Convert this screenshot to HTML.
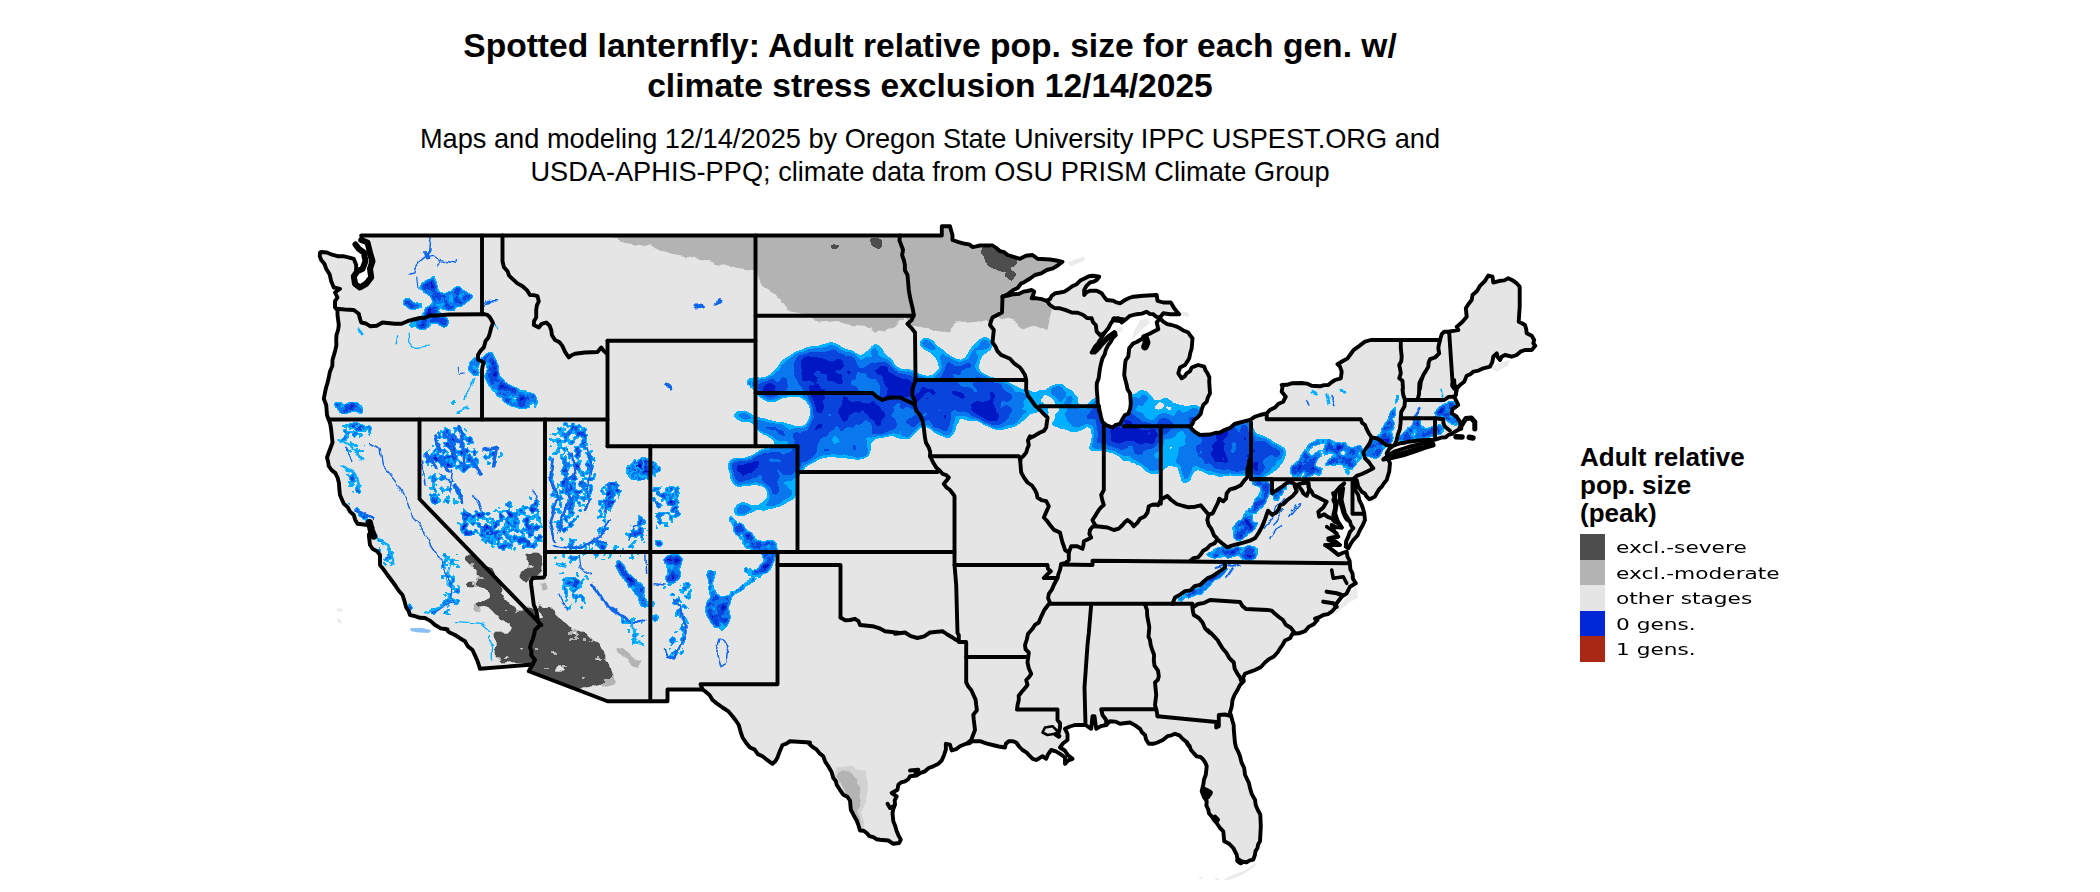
<!DOCTYPE html>
<html lang="en"><head><meta charset="utf-8"><title>Spotted lanternfly map</title>
<style>
html,body{margin:0;padding:0;background:#fff;}
body{width:2100px;height:892px;position:relative;overflow:hidden;font-family:"Liberation Sans",Arial,sans-serif;color:#000;}
.title{position:absolute;left:330px;width:1200px;top:26px;text-align:center;font-weight:bold;font-size:33.6px;line-height:40.3px;letter-spacing:0px;}
.sub{position:absolute;left:330px;width:1200px;top:122.3px;text-align:center;font-size:27.2px;line-height:33.1px;}
.lt{position:absolute;left:1580px;top:442.5px;font-weight:bold;font-size:26px;line-height:28px;}
.sw{position:absolute;left:1580.2px;width:24.7px;height:25.5px;}
.ll{position:absolute;left:1616.3px;font-family:"DejaVu Sans","Liberation Sans",sans-serif;font-size:15.7px;line-height:25.5px;white-space:nowrap;transform:scale(1.383,1);transform-origin:0 0;}
</style></head><body>
<svg width="2100" height="892" viewBox="0 0 2100 892" style="position:absolute;left:0;top:0">
<defs><clipPath id="us"><path d="M361.2,235.5 L941.8,235.5 L941.8,226.2 L950.0,226.2 L951.2,230.8 L952.5,235.3 L952.5,240.0 L958.6,242.2 L965.0,243.8 L969.2,244.4 L972.5,247.0 L976.3,246.3 L980.0,245.5 L992.5,245.5 L996.4,248.1 L1000.0,251.2 L1004.2,252.2 L1007.5,255.0 L1013.7,256.9 L1020.0,258.8 L1025.9,255.8 L1032.5,255.0 L1037.5,258.8 L1050.0,259.5 L1056.3,260.5 L1062.5,261.8 L1058.3,265.0 L1052.9,268.4 L1046.7,270.0 L1041.2,273.4 L1035.0,275.0 L1030.1,278.5 L1025.0,281.7 L1020.7,283.8 L1017.7,288.0 L1013.3,290.0 L1008.3,293.9 L1002.5,296.7 L1008.0,295.7 L1013.3,294.2 L1018.6,294.0 L1023.3,291.7 L1027.5,291.0 L1031.7,290.0 L1034.2,291.7 L1033.1,295.1 L1031.7,298.3 L1036.7,298.3 L1041.7,299.2 L1046.7,300.8 L1050.0,299.1 L1051.7,295.8 L1055.4,293.2 L1060.0,292.5 L1064.5,291.6 L1068.3,289.2 L1072.2,286.2 L1076.7,284.2 L1080.3,280.6 L1085.0,278.3 L1088.9,276.2 L1093.3,275.8 L1099.2,276.7 L1096.7,280.0 L1093.5,281.7 L1090.0,282.5 L1086.5,285.8 L1084.2,290.0 L1084.2,295.0 L1086.6,292.3 L1090.0,290.8 L1096.7,290.8 L1101.7,293.3 L1104.0,296.8 L1106.7,300.0 L1113.3,300.8 L1116.5,302.4 L1120.0,303.3 L1125.0,300.0 L1129.1,298.0 L1133.3,296.7 L1143.3,295.8 L1156.7,295.0 L1157.5,300.8 L1163.3,302.5 L1170.8,302.5 L1174.2,308.3 L1176.6,311.3 L1179.2,314.2 L1170.0,314.2 L1163.3,313.3 L1160.0,317.5 L1156.2,316.8 L1153.3,314.2 L1149.6,313.9 L1146.7,311.7 L1141.8,313.6 L1136.7,314.2 L1130.0,315.8 L1125.0,320.0 L1121.7,322.5 L1118.3,318.3 L1113.3,320.0 L1110.5,323.9 L1108.3,328.3 L1104.2,333.3 L1102.2,336.8 L1100.0,340.0 L1097.9,343.6 L1095.0,346.7 L1091.7,352.5 L1095.0,352.5 L1098.5,348.9 L1101.7,345.0 L1104.9,341.6 L1108.3,338.3 L1111.4,335.1 L1115.0,332.5 L1115.8,335.0 L1112.8,337.9 L1110.8,341.7 L1107.9,345.6 L1105.8,350.0 L1104.7,354.4 L1102.5,358.3 L1101.1,363.3 L1100.0,368.3 L1099.3,373.3 L1098.7,378.3 L1096.8,383.2 L1096.7,388.3 L1097.5,398.3 L1097.8,403.4 L1099.2,408.3 L1100.3,413.7 L1098.8,410.0 L1100.4,413.6 L1101.0,417.5 L1102.5,421.9 L1106.0,425.0 L1112.5,427.5 L1115.8,424.8 L1120.0,423.8 L1122.3,419.3 L1125.0,415.0 L1128.3,413.7 L1130.2,408.6 L1130.8,403.3 L1130.0,393.3 L1127.6,389.5 L1126.7,385.0 L1125.4,380.0 L1124.2,375.0 L1125.0,365.0 L1125.6,360.4 L1128.3,356.7 L1129.2,348.3 L1133.3,343.3 L1136.8,342.0 L1140.0,340.0 L1143.7,338.0 L1146.7,335.0 L1150.1,333.5 L1153.3,331.7 L1158.3,329.2 L1156.7,322.5 L1160.0,318.3 L1163.3,321.7 L1167.2,324.2 L1171.7,325.0 L1176.0,326.3 L1180.0,328.3 L1184.0,330.8 L1188.3,332.5 L1190.2,335.5 L1192.5,338.3 L1191.7,348.3 L1190.2,353.3 L1189.2,358.3 L1187.2,361.7 L1185.0,365.0 L1180.0,367.5 L1178.3,373.3 L1181.7,378.3 L1184.7,376.4 L1186.7,373.3 L1190.0,371.1 L1191.7,367.5 L1195.0,366.2 L1198.3,365.0 L1204.2,366.7 L1205.5,370.2 L1207.5,373.3 L1209.4,377.3 L1209.2,381.7 L1210.0,393.3 L1207.9,397.3 L1206.7,401.7 L1203.3,405.0 L1201.7,409.2 L1200.8,413.7 L1197.5,417.5 L1194.1,419.9 L1192.5,423.8 L1190.0,427.0 L1194.5,431.6 L1200.0,435.0 L1210.0,434.5 L1214.9,433.0 L1220.0,432.5 L1224.9,429.8 L1230.2,427.9 L1234.5,424.0 L1240.0,422.5 L1245.0,421.2 L1250.0,420.0 L1254.6,416.8 L1260.0,415.0 L1266.7,413.3 L1270.3,409.7 L1275.0,407.5 L1278.6,403.7 L1283.3,401.7 L1285.8,396.7 L1281.7,391.7 L1282.5,386.7 L1281.7,385.0 L1286.8,384.8 L1291.7,383.3 L1301.7,383.0 L1306.9,383.6 L1311.7,385.8 L1320.0,386.3 L1324.1,385.1 L1328.3,385.0 L1331.5,382.3 L1335.0,380.0 L1340.8,378.3 L1341.7,371.7 L1340.0,366.7 L1337.5,364.2 L1343.3,360.8 L1347.3,358.6 L1350.0,355.0 L1353.5,350.1 L1358.3,346.7 L1361.6,344.1 L1365.0,341.7 L1370.8,340.0 L1440.0,340.0 L1441.7,334.2 L1444.2,331.7 L1448.3,331.7 L1453.3,330.8 L1458.3,330.0 L1456.7,326.7 L1459.7,324.3 L1462.5,321.7 L1466.7,316.7 L1465.8,308.3 L1468.3,304.2 L1471.7,300.0 L1472.5,295.0 L1477.0,291.0 L1480.0,285.8 L1484.8,281.1 L1488.3,275.5 L1492.5,276.7 L1493.3,282.5 L1500.0,280.8 L1504.4,280.4 L1508.3,278.3 L1513.3,280.8 L1516.9,283.4 L1519.7,286.7 L1519.7,306.7 L1518.7,321.7 L1521.9,323.2 L1525.0,325.0 L1526.2,329.1 L1526.7,333.3 L1531.7,335.8 L1534.2,340.0 L1533.3,343.3 L1535.3,345.8 L1531.7,350.0 L1525.0,350.0 L1520.4,351.7 L1516.7,355.0 L1511.7,356.7 L1505.0,355.0 L1501.7,356.7 L1500.0,360.0 L1497.6,357.0 L1496.7,353.3 L1493.3,356.7 L1492.4,361.9 L1490.0,366.7 L1483.3,368.3 L1478.5,370.6 L1473.3,371.7 L1470.3,374.3 L1466.7,375.8 L1464.2,381.7 L1460.0,385.0 L1456.7,388.7 L1455.8,395.0 L1454.2,396.7 L1456.7,401.7 L1458.3,405.0 L1455.4,407.1 L1452.5,409.2 L1451.7,413.3 L1456.7,416.7 L1460.0,421.7 L1460.8,426.7 L1461.3,428.7 L1458.1,430.0 L1455.0,431.7 L1451.9,433.8 L1448.3,435.0 L1445.4,437.4 L1441.7,437.5 L1437.6,438.9 L1433.3,440.0 L1425.0,440.0 L1416.7,440.8 L1408.3,441.7 L1404.2,442.8 L1400.0,443.3 L1396.6,444.4 L1393.3,445.8 L1389.2,448.9 L1386.7,453.3 L1387.9,458.5 L1390.0,463.3 L1389.2,471.7 L1387.9,475.8 L1386.7,480.0 L1383.9,483.2 L1381.7,486.7 L1378.8,489.7 L1376.7,493.3 L1374.9,496.6 L1371.7,498.3 L1369.2,499.2 L1366.7,496.7 L1364.8,493.5 L1361.7,491.7 L1358.3,486.7 L1356.7,480.0 L1354.2,478.3 L1353.3,481.7 L1354.4,486.3 L1355.8,490.9 L1358.3,495.0 L1359.3,500.2 L1361.7,505.0 L1363.2,509.1 L1364.2,513.3 L1365.0,520.0 L1362.7,525.1 L1360.0,530.0 L1357.5,535.5 L1353.3,540.0 L1350.6,544.0 L1348.3,548.3 L1345.8,546.7 L1346.1,541.4 L1348.3,536.7 L1349.9,532.0 L1353.3,528.3 L1351.0,525.3 L1350.0,521.7 L1346.9,519.7 L1345.0,516.7 L1343.0,511.8 L1341.7,506.7 L1339.8,501.0 L1340.0,495.0 L1339.7,490.6 L1341.7,486.7 L1344.2,483.3 L1340.0,486.7 L1335.8,491.7 L1335.4,496.1 L1333.3,500.0 L1335.1,504.0 L1335.0,508.3 L1333.3,515.0 L1336.7,520.0 L1339.4,523.6 L1341.7,527.5 L1336.4,527.4 L1331.7,525.0 L1334.2,531.3 L1338.3,536.7 L1333.3,537.2 L1328.3,538.3 L1334.6,540.9 L1340.0,545.0 L1325.0,545.0 L1329.8,547.9 L1334.1,551.4 L1338.3,555.0 L1342.4,553.0 L1346.7,551.7 L1347.5,556.7 L1349.6,560.6 L1350.0,565.0 L1350.4,569.4 L1352.5,573.3 L1353.0,578.7 L1355.8,583.3 L1350.0,586.7 L1348.4,590.0 L1346.7,593.3 L1341.7,596.7 L1339.2,600.0 L1336.7,603.3 L1335.0,608.0 L1331.7,611.7 L1327.9,614.2 L1323.3,615.0 L1319.3,617.2 L1315.0,618.7 L1317.5,620.0 L1313.7,624.2 L1308.6,626.9 L1305.0,631.2 L1298.9,633.3 L1292.5,633.8 L1290.0,638.3 L1285.0,640.5 L1282.5,645.0 L1279.9,648.7 L1277.5,652.5 L1273.9,656.5 L1269.1,659.1 L1265.0,662.5 L1260.7,667.2 L1255.0,670.0 L1250.0,671.8 L1245.0,673.8 L1243.2,677.3 L1243.8,681.2 L1239.9,685.1 L1237.5,690.0 L1234.6,694.8 L1232.5,700.0 L1231.8,706.4 L1230.0,712.5 L1231.2,716.2 L1232.4,720.8 L1233.7,725.3 L1233.8,730.0 L1235.0,743.0 L1235.0,743.0 L1236.1,747.7 L1238.3,751.9 L1240.0,756.3 L1241.5,762.4 L1244.2,768.0 L1245.0,774.7 L1247.0,779.0 L1249.0,783.3 L1250.0,788.0 L1251.8,794.1 L1255.0,799.7 L1255.7,805.1 L1257.8,810.0 L1260.3,814.7 L1260.8,826.3 L1260.0,841.3 L1258.1,844.4 L1257.5,848.0 L1255.5,851.1 L1255.0,854.7 L1253.3,859.7 L1249.8,860.4 L1246.7,862.2 L1239.2,861.3 L1237.3,858.2 L1236.7,854.7 L1235.0,851.3 L1233.3,848.0 L1229.2,843.8 L1224.2,841.3 L1223.3,831.3 L1220.0,828.0 L1216.7,823.0 L1213.9,819.9 L1211.7,816.3 L1209.0,813.5 L1208.3,809.7 L1206.4,805.7 L1206.7,801.3 L1203.7,796.6 L1201.7,791.3 L1203.3,784.7 L1204.0,779.5 L1205.8,774.7 L1206.7,766.3 L1205.4,762.8 L1203.3,759.7 L1200.5,757.0 L1196.7,756.3 L1193.7,753.1 L1190.8,749.7 L1189.6,745.8 L1186.7,743.0 L1190.0,747.5 L1187.1,742.4 L1182.5,738.8 L1179.4,735.3 L1175.0,733.8 L1171.4,735.3 L1167.5,736.2 L1162.9,739.9 L1157.5,742.5 L1153.2,743.8 L1148.8,743.8 L1146.2,739.7 L1145.0,735.0 L1141.9,732.3 L1140.0,728.8 L1135.2,725.4 L1130.0,722.5 L1120.0,723.8 L1115.2,721.6 L1110.0,721.2 L1106.2,725.0 L1101.0,726.1 L1096.2,728.8 L1095.3,722.5 L1094.5,716.2 L1092.5,716.2 L1091.2,728.8 L1085.5,725.0 L1075.0,725.0 L1069.9,726.5 L1065.0,728.8 L1067.5,733.8 L1067.5,740.0 L1063.2,743.2 L1060.0,747.5 L1064.8,750.5 L1068.1,755.3 L1072.5,758.8 L1068.2,760.4 L1065.0,763.8 L1065.0,757.5 L1060.0,753.8 L1055.9,751.3 L1051.2,750.0 L1048.2,754.1 L1046.2,758.8 L1042.5,756.2 L1039.4,758.2 L1036.2,760.0 L1032.7,758.8 L1030.0,756.2 L1026.7,752.6 L1022.5,750.0 L1019.1,746.5 L1016.2,742.5 L1012.6,741.2 L1008.8,741.2 L1005.9,743.8 L1005.0,747.5 L998.7,746.5 L992.5,745.0 L986.2,743.4 L980.0,741.2 L973.6,741.1 L967.5,743.0 L970.0,743.0 L964.8,744.2 L960.0,746.3 L956.2,749.1 L951.7,750.5 L950.0,744.7 L945.8,743.8 L945.9,749.4 L944.2,754.7 L941.7,760.5 L938.0,764.1 L933.3,766.3 L928.7,768.0 L925.0,771.3 L920.5,772.8 L916.7,775.5 L910.0,776.3 L908.1,779.4 L905.0,781.3 L901.3,782.3 L898.3,784.7 L897.5,789.7 L891.7,793.0 L896.7,796.3 L894.7,800.3 L895.0,804.7 L893.4,808.7 L892.5,813.0 L893.3,821.3 L895.3,826.2 L896.7,831.3 L898.6,835.6 L900.8,839.7 L899.2,843.0 L893.3,843.8 L888.3,840.5 L880.0,839.7 L876.4,839.2 L873.3,837.2 L869.4,836.1 L866.7,833.0 L863.7,830.7 L860.0,830.5 L858.3,824.7 L856.6,820.3 L854.2,816.3 L852.6,813.0 L850.8,809.7 L850.0,800.5 L847.4,796.8 L843.3,794.7 L839.9,789.8 L836.7,784.7 L835.8,780.9 L833.3,778.0 L831.6,771.9 L828.3,766.3 L825.2,761.6 L823.3,756.3 L819.6,753.4 L816.7,749.7 L812.2,746.7 L808.3,743.0 L810.0,742.5 L790.0,741.2 L786.5,743.7 L782.5,745.0 L779.8,751.2 L777.5,757.5 L775.5,761.0 L772.5,763.8 L767.4,760.2 L762.5,756.2 L757.8,754.1 L754.7,749.6 L750.0,747.5 L746.0,742.7 L742.5,737.5 L740.5,731.3 L738.8,725.0 L735.8,720.5 L732.5,716.2 L728.1,711.1 L722.5,707.5 L717.4,703.9 L712.5,700.0 L709.5,695.0 L705.0,691.2 L702.5,689.5 L667.5,689.5 L667.5,701.2 L651.2,701.2 L607.5,701.2 L528.8,671.2 L530.6,667.9 L532.5,664.5 L480.0,668.8 L478.8,665.0 L477.5,661.2 L475.1,655.6 L472.5,650.0 L467.9,646.4 L465.0,641.2 L459.9,638.2 L455.0,635.0 L449.6,632.5 L445.0,628.8 L447.5,629.5 L440.8,628.4 L435.0,625.0 L430.4,620.9 L425.0,618.0 L419.8,617.8 L415.0,616.1 L410.0,615.0 L408.6,611.0 L406.2,607.5 L404.5,601.2 L402.5,595.0 L398.4,590.3 L395.0,585.0 L391.3,580.0 L387.5,575.0 L383.9,569.9 L380.0,565.0 L380.0,555.0 L377.1,551.2 L372.7,549.0 L370.0,545.0 L368.8,535.0 L370.8,531.3 L372.5,527.5 L367.5,525.0 L357.5,523.8 L355.1,519.6 L353.8,515.0 L350.0,511.6 L347.6,507.1 L343.8,503.8 L341.9,499.4 L340.0,495.0 L339.3,489.1 L339.0,483.2 L337.5,477.5 L335.4,473.1 L331.6,470.1 L328.8,466.2 L328.1,461.8 L327.0,457.5 L328.8,452.5 L330.7,447.5 L332.5,442.5 L331.2,430.0 L330.4,424.6 L328.8,419.5 L328.8,420.0 L327.0,415.0 L326.2,405.0 L323.8,398.8 L325.0,392.5 L326.1,387.5 L327.6,382.5 L328.8,377.5 L329.9,371.7 L332.3,366.1 L332.5,360.0 L333.9,355.1 L335.3,350.2 L336.4,345.2 L336.2,340.0 L336.5,334.9 L338.1,330.0 L338.8,325.0 L337.5,315.0 L337.5,308.8 L335.0,307.5 L335.0,301.2 L337.5,297.5 L335.0,292.5 L340.0,288.8 L333.8,287.5 L331.2,281.2 L329.7,274.6 L326.2,268.8 L324.5,264.0 L321.2,260.0 L319.8,256.4 L320.0,252.5 L321.2,252.0 L326.9,252.5 L332.1,254.7 L337.5,256.2 L343.1,256.1 L348.4,257.3 L353.8,258.8 L356.2,265.0 L356.0,271.5 L353.8,277.5 L355.9,282.7 L358.8,287.5 L363.0,284.7 L366.9,281.5 L370.0,277.5 L371.2,260.0 L369.2,254.3 L369.3,248.2 L367.5,242.5 L362.5,240.0 L361.2,235.5Z"/><path d="M1383.3,459.2 L1390.0,454.2 L1395.0,451.3 L1408.3,447.0 L1425.0,443.0 L1433.3,443.8 L1433.7,445.3 L1425.0,448.0 L1416.7,451.0 L1403.3,455.3 L1391.7,458.0 L1383.3,459.7Z"/></clipPath><filter id="contour" filterUnits="userSpaceOnUse" x="300" y="215" width="1260" height="677" color-interpolation-filters="sRGB">
<feGaussianBlur in="SourceAlpha" stdDeviation="5.5" result="b"/>
<feTurbulence type="fractalNoise" baseFrequency="0.04" numOctaves="3" seed="11" result="n"/>
<feComposite in="b" in2="n" operator="arithmetic" k1="0.85" k2="0.4" k3="0" k4="0" result="c"/>
<feColorMatrix in="c" type="matrix" values="0 0 0 1 0  0 0 0 1 0  0 0 0 1 0  0 0 0 1 0" result="g"/>
<feComponentTransfer in="g"><feFuncR type="discrete" tableValues="0.000 0.000 0.000 0.000 0.000 0.000 0.000 0.000 0.000 0.000 0.000 0.000 0.039 0.039 0.039 0.039 0.039 0.039 0.039 0.039 0.039 0.000 0.000 0.000 0.000"/><feFuncG type="discrete" tableValues="0.000 0.000 0.000 0.000 0.000 0.000 0.000 0.000 0.000 0.690 0.690 0.690 0.471 0.471 0.471 0.471 0.267 0.267 0.267 0.267 0.267 0.094 0.094 0.094 0.094"/><feFuncB type="discrete" tableValues="0.000 0.000 0.000 0.000 0.000 0.000 0.000 0.000 0.000 1.000 1.000 1.000 0.941 0.941 0.941 0.941 0.863 0.863 0.863 0.863 0.863 0.769 0.769 0.769 0.769"/><feFuncA type="discrete" tableValues="0.000 0.000 0.000 0.000 0.000 0.000 0.000 0.000 0.000 1.000 1.000 1.000 1.000 1.000 1.000 1.000 1.000 1.000 1.000 1.000 1.000 1.000 1.000 1.000 1.000"/></feComponentTransfer>
</filter>
<filter id="contour2" filterUnits="userSpaceOnUse" x="300" y="215" width="1260" height="677" color-interpolation-filters="sRGB">
<feGaussianBlur in="SourceAlpha" stdDeviation="2" result="b"/>
<feTurbulence type="fractalNoise" baseFrequency="0.11" numOctaves="3" seed="5" result="n"/>
<feComposite in="b" in2="n" operator="arithmetic" k1="1.1" k2="0.2" k3="0" k4="0" result="c"/>
<feColorMatrix in="c" type="matrix" values="0 0 0 1 0  0 0 0 1 0  0 0 0 1 0  0 0 0 1 0" result="g"/>
<feComponentTransfer in="g"><feFuncR type="discrete" tableValues="0.000 0.000 0.000 0.000 0.000 0.000 0.000 0.000 0.000 0.000 0.000 0.000 0.039 0.039 0.039 0.039 0.039 0.039 0.039 0.039 0.039 0.000 0.000 0.000 0.000"/><feFuncG type="discrete" tableValues="0.000 0.000 0.000 0.000 0.000 0.000 0.000 0.000 0.000 0.690 0.690 0.690 0.471 0.471 0.471 0.471 0.267 0.267 0.267 0.267 0.267 0.094 0.094 0.094 0.094"/><feFuncB type="discrete" tableValues="0.000 0.000 0.000 0.000 0.000 0.000 0.000 0.000 0.000 1.000 1.000 1.000 0.941 0.941 0.941 0.941 0.863 0.863 0.863 0.863 0.863 0.769 0.769 0.769 0.769"/><feFuncA type="discrete" tableValues="0.000 0.000 0.000 0.000 0.000 0.000 0.000 0.000 0.000 1.000 1.000 1.000 1.000 1.000 1.000 1.000 1.000 1.000 1.000 1.000 1.000 1.000 1.000 1.000 1.000"/></feComponentTransfer>
</filter>
<filter id="speck" filterUnits="userSpaceOnUse" x="300" y="215" width="1260" height="677" color-interpolation-filters="sRGB">
<feGaussianBlur in="SourceAlpha" stdDeviation="2.5" result="b"/>
<feTurbulence type="fractalNoise" baseFrequency="0.16" numOctaves="2" seed="4" result="n"/>
<feComposite in="b" in2="n" operator="arithmetic" k1="1.7" k2="-0.35" k3="0" k4="0" result="c"/>
<feColorMatrix in="c" type="matrix" values="0 0 0 1 0  0 0 0 1 0  0 0 0 1 0  0 0 0 1 0" result="g"/>
<feComponentTransfer in="g"><feFuncR type="discrete" tableValues="0.000 0.000 0.000 0.000 0.000 0.000 0.000 0.000 0.000 0.000 0.000 0.000 0.039 0.039 0.039 0.039 0.039 0.039 0.039 0.039 0.039 0.000 0.000 0.000 0.000"/><feFuncG type="discrete" tableValues="0.000 0.000 0.000 0.000 0.000 0.000 0.000 0.000 0.000 0.690 0.690 0.690 0.471 0.471 0.471 0.471 0.267 0.267 0.267 0.267 0.267 0.094 0.094 0.094 0.094"/><feFuncB type="discrete" tableValues="0.000 0.000 0.000 0.000 0.000 0.000 0.000 0.000 0.000 1.000 1.000 1.000 0.941 0.941 0.941 0.941 0.863 0.863 0.863 0.863 0.863 0.769 0.769 0.769 0.769"/><feFuncA type="discrete" tableValues="0.000 0.000 0.000 0.000 0.000 0.000 0.000 0.000 0.000 1.000 1.000 1.000 1.000 1.000 1.000 1.000 1.000 1.000 1.000 1.000 1.000 1.000 1.000 1.000 1.000"/></feComponentTransfer>
</filter>
<filter id="mblur" filterUnits="userSpaceOnUse" x="300" y="215" width="1260" height="677"><feGaussianBlur stdDeviation="4"/></filter>
<filter id="contourG" filterUnits="userSpaceOnUse" x="300" y="215" width="1260" height="677" color-interpolation-filters="sRGB">
<feGaussianBlur in="SourceAlpha" stdDeviation="2.2" result="b"/>
<feTurbulence type="fractalNoise" baseFrequency="0.06 0.11" numOctaves="3" seed="9" result="n"/>
<feComposite in="b" in2="n" operator="arithmetic" k1="1.3" k2="0.1" k3="0" k4="0" result="c"/>
<feColorMatrix in="c" type="matrix" values="0 0 0 1 0  0 0 0 1 0  0 0 0 1 0  0 0 0 1 0" result="g"/>
<feComponentTransfer in="g"><feFuncR type="discrete" tableValues="0.000 0.000 0.000 0.000 0.000 0.000 0.000 0.000 0.000 0.000 0.702 0.702 0.302 0.302 0.302 0.302 0.302 0.302 0.302 0.302 0.302 0.302 0.302 0.302 0.302"/><feFuncG type="discrete" tableValues="0.000 0.000 0.000 0.000 0.000 0.000 0.000 0.000 0.000 0.000 0.702 0.702 0.302 0.302 0.302 0.302 0.302 0.302 0.302 0.302 0.302 0.302 0.302 0.302 0.302"/><feFuncB type="discrete" tableValues="0.000 0.000 0.000 0.000 0.000 0.000 0.000 0.000 0.000 0.000 0.702 0.702 0.302 0.302 0.302 0.302 0.302 0.302 0.302 0.302 0.302 0.302 0.302 0.302 0.302"/><feFuncA type="discrete" tableValues="0 0 0 0 0 0 0 0 0 0 1 1 1 1 1 1 1 1 1 1 1 1 1 1 1"/></feComponentTransfer>
</filter>
<filter id="rough" filterUnits="userSpaceOnUse" x="300" y="215" width="1260" height="677">
<feTurbulence type="fractalNoise" baseFrequency="0.08" numOctaves="2" seed="3" result="n"/>
<feDisplacementMap in="SourceGraphic" in2="n" scale="7" xChannelSelector="R" yChannelSelector="G"/>
</filter></defs>
<path d="M1223.3,879.7 L1233.3,874.7 L1243.3,871.3 L1251.7,866.3 L1255.0,863.0 L1255.8,865.5 L1246.7,872.2 L1236.7,877.2 L1226.7,880.5Z" fill="#ebebeb"/>
<path d="M1199.2,877.2 L1201.7,876.8 L1202.0,878.8 L1199.5,879.0Z" fill="#ebebeb"/>
<path d="M1215.0,878.8 L1219.2,878.3 L1219.3,880.0 L1215.3,880.3Z" fill="#ebebeb"/>
<path d="M1356.7,586.7 L1358.0,598.3 L1350.0,601.7 L1336.7,613.3 L1333.3,615.0 L1338.3,606.7 L1346.7,596.7 L1355.0,586.7Z" fill="#ebebeb"/>
<path d="M1067.5,262.5 L1083.8,256.2 L1085.0,260.0 L1071.2,266.2Z" fill="#ebebeb"/>
<path d="M1140.0,320.0 L1148.3,318.3 L1150.0,323.3 L1143.3,328.3 L1136.7,335.0 L1131.7,340.0 L1133.3,333.3Z" fill="#ebebeb"/>
<path d="M1180.0,311.7 L1188.3,312.5 L1189.2,316.7 L1181.7,315.8Z" fill="#ebebeb"/>
<path d="M1490.0,368.3 L1496.7,363.3 L1510.0,360.0 L1508.3,365.0 L1496.7,371.7Z" fill="#ebebeb"/>
<path d="M336.7,607.7 L342.0,609.0 L342.7,611.7 L337.3,611.0Z" fill="#ebebeb"/>
<path d="M336.7,618.3 L340.0,619.0 L342.0,623.7 L338.0,622.3Z" fill="#ebebeb"/>
<path d="M1116.7,328.3 L1123.3,326.7 L1121.7,331.7 L1115.8,333.3Z" fill="#ebebeb"/>
<path d="M410.0,628.3 L420.7,627.7 L431.3,630.3 L428.7,633.0 L416.7,632.3 L410.7,631.0Z" fill="#2a8cf0" opacity="0.55"/>
<g clip-path="url(#us)">
<rect x="300" y="215" width="1260" height="677" fill="#e5e5e5"/>
<g filter="url(#rough)">
<path d="M837.5,767.5 L850.0,766.2 L865.0,770.0 L868.8,792.5 L861.2,812.5 L866.2,832.5 L855.0,821.2 L842.5,792.5 L832.5,775.0Z" fill="#d2d2d2"/>
<path d="M612.0,225.0 L612.0,237.0 L625.0,242.0 L650.0,246.0 L662.0,252.0 L680.0,255.0 L700.0,259.0 L725.0,265.0 L737.0,269.0 L755.0,271.0 L762.0,285.0 L770.0,290.0 L780.0,300.0 L787.0,311.0 L800.0,313.0 L815.0,317.5 L820.0,322.5 L837.5,321.0 L850.0,325.0 L872.5,326.0 L875.0,332.5 L882.5,331.0 L895.0,325.0 L905.0,320.0 L910.0,325.0 L915.5,325.0 L925.0,329.0 L937.5,331.0 L950.0,332.5 L955.0,322.5 L975.0,321.0 L990.0,322.5 L995.0,315.0 L1012.5,320.0 L1020.0,329.0 L1032.5,325.0 L1047.5,331.0 L1050.0,315.0 L1052.5,310.0 L1046.0,301.0 L1080.0,280.0 L1080.0,215.0 L612.0,215.0Z" fill="#b3b3b3"/>
<path d="M838.8,772.5 L850.0,770.0 L858.8,780.0 L861.2,795.0 L856.2,810.0 L860.0,825.0 L853.8,817.5 L843.8,792.5 L836.2,777.5Z" fill="#b3b3b3"/>
<path d="M616.7,646.7 L623.3,648.3 L631.7,656.7 L640.0,661.7 L639.2,668.3 L631.7,663.3 L623.3,656.7 L616.7,653.3Z" fill="#b3b3b3"/>
<path d="M473.3,603.3 L478.3,601.7 L480.0,610.0 L475.0,611.7Z" fill="#b3b3b3"/>
<path d="M596.7,681.7 L606.7,680.0 L613.3,673.3 L615.0,683.3 L603.3,686.7Z" fill="#b3b3b3"/>
<path d="M540.0,585.0 L545.0,583.3 L546.7,590.0 L541.7,591.7Z" fill="#b3b3b3"/>
</g>
<g filter="url(#contourG)">
<path d="M979.3,249.4 L980.8,255.4 L980.8,255.6 L980.9,255.8 L983.4,260.8 L983.5,261.0 L983.6,261.2 L988.6,267.2 L988.7,267.3 L988.9,267.4 L989.0,267.5 L989.2,267.6 L989.3,267.7 L989.5,267.7 L999.0,270.6 L1006.2,278.7 L1006.3,278.8 L1006.5,279.0 L1011.5,282.5 L1011.6,282.6 L1011.8,282.6 L1011.9,282.7 L1012.1,282.8 L1012.3,282.8 L1012.4,282.8 L1012.6,282.8 L1012.8,282.8 L1013.0,282.7 L1013.1,282.7 L1013.3,282.6 L1013.4,282.5 L1013.6,282.4 L1013.7,282.3 L1013.8,282.2 L1014.0,282.1 L1014.0,281.9 L1014.1,281.8 L1014.2,281.6 L1016.7,274.6 L1016.7,274.4 L1016.8,274.2 L1016.8,274.1 L1016.8,273.9 L1016.8,273.7 L1016.7,273.5 L1016.7,273.3 L1016.6,273.2 L1016.5,273.0 L1016.4,272.9 L1016.3,272.7 L1012.7,269.1 L1016.1,266.4 L1016.3,266.3 L1016.4,266.1 L1016.5,266.0 L1016.6,265.8 L1019.1,260.8 L1019.2,260.6 L1019.2,260.5 L1019.3,260.3 L1019.3,260.1 L1019.3,260.0 L1019.3,259.8 L1019.3,259.6 L1019.2,259.4 L1019.1,259.3 L1019.1,259.1 L1019.0,259.0 L1018.9,258.8 L1018.8,258.7 L1018.6,258.6 L1018.5,258.5 L1018.3,258.4 L1018.2,258.3 L1008.3,254.4 L998.4,248.5 L998.3,248.4 L990.8,244.4 L990.7,244.3 L990.5,244.3 L990.3,244.2 L990.2,244.2 L990.0,244.2 L989.8,244.2 L989.6,244.2 L989.4,244.3 L980.4,247.3 L980.3,247.4 L980.1,247.4 L980.0,247.5 L979.8,247.6 L979.7,247.8 L979.6,247.9 L979.5,248.1 L979.4,248.2 L979.3,248.4 L979.3,248.5 L979.2,248.7 L979.2,248.9 L979.2,249.1 L979.2,249.3Z" fill="#000"/>
<path d="M868.5,239.7 L872.2,245.9 L872.3,246.1 L872.4,246.2 L872.5,246.3 L872.6,246.4 L872.8,246.5 L872.9,246.6 L873.1,246.7 L879.3,249.2 L879.5,249.2 L879.7,249.3 L879.9,249.3 L880.0,249.3 L880.2,249.3 L880.4,249.3 L880.6,249.2 L880.7,249.1 L880.9,249.1 L881.1,249.0 L881.2,248.8 L881.3,248.7 L881.4,248.6 L881.5,248.4 L881.6,248.3 L881.7,248.1 L881.7,247.9 L883.0,242.9 L883.0,242.8 L883.0,242.6 L883.0,242.4 L883.0,242.3 L883.0,242.1 L883.0,241.9 L882.9,241.8 L882.8,241.6 L882.7,241.5 L882.6,241.3 L878.9,236.8 L878.8,236.7 L878.6,236.6 L878.5,236.5 L878.3,236.4 L878.2,236.3 L878.0,236.3 L877.8,236.2 L877.7,236.2 L877.5,236.2 L877.3,236.2 L869.8,237.0 L869.6,237.0 L869.5,237.0 L869.3,237.1 L869.1,237.2 L869.0,237.3 L868.8,237.4 L868.7,237.5 L868.6,237.6 L868.5,237.8 L868.4,237.9 L868.3,238.1 L868.3,238.3 L868.2,238.5 L868.2,238.6 L868.2,238.8 L868.2,239.0 L868.3,239.2 L868.3,239.3 L868.4,239.5Z" fill="#000"/>
<path d="M829.6,245.2 L830.8,248.2 L830.9,248.3 L831.0,248.5 L831.1,248.6 L831.2,248.8 L831.4,248.9 L831.5,249.0 L831.6,249.1 L831.8,249.2 L832.0,249.2 L832.1,249.3 L832.3,249.3 L832.5,249.3 L832.6,249.3 L838.9,248.8 L839.1,248.8 L839.2,248.7 L839.4,248.7 L839.6,248.6 L839.7,248.5 L839.9,248.4 L840.0,248.3 L840.1,248.2 L840.2,248.0 L840.3,247.9 L840.4,247.7 L840.5,247.6 L840.5,247.4 L840.5,247.2 L840.5,247.0 L840.5,246.9 L840.5,246.7 L840.5,246.5 L840.4,246.4 L839.2,243.1 L839.1,242.9 L839.0,242.8 L838.9,242.6 L838.8,242.5 L838.7,242.4 L838.5,242.3 L838.3,242.2 L838.2,242.1 L838.0,242.0 L837.8,242.0 L837.7,242.0 L837.5,242.0 L837.3,242.0 L831.0,242.7 L830.9,242.7 L830.7,242.8 L830.5,242.8 L830.4,242.9 L830.2,243.0 L830.1,243.1 L830.0,243.2 L829.8,243.4 L829.7,243.5 L829.7,243.7 L829.6,243.8 L829.5,244.0 L829.5,244.2 L829.5,244.3 L829.5,244.5 L829.5,244.7 L829.5,244.9 L829.5,245.0Z" fill="#000"/>
<path d="M463.3,555.8 L473.3,553.3 L483.3,565.0 L493.3,568.3 L498.3,578.3 L503.3,590.0 L506.7,601.7 L510.0,603.3 L518.3,610.0 L526.7,606.7 L530.8,603.3 L535.8,613.3 L540.0,621.7 L533.3,630.0 L530.8,640.0 L528.3,648.3 L531.7,656.7 L530.8,662.5 L500.0,664.2 L495.0,656.7 L494.2,648.3 L498.3,643.3 L491.7,633.3 L496.7,630.0 L506.7,633.3 L513.3,630.0 L506.7,623.3 L496.7,618.3 L491.7,610.0 L483.3,606.7 L475.0,608.3 L473.3,601.7 L483.3,601.7 L490.0,596.7 L488.3,590.0 L480.0,586.7 L471.7,588.3 L465.0,586.7 L466.7,580.0 L473.3,581.7 L475.0,573.3 L470.0,566.7 L465.0,560.0Z" fill="#000"/>
<path d="M540.0,621.7 L543.3,615.0 L550.0,618.3 L556.7,615.0 L563.3,621.7 L571.7,628.3 L581.7,630.0 L590.0,636.7 L600.0,643.3 L605.0,653.3 L608.3,663.3 L613.3,673.3 L611.7,681.7 L600.0,685.0 L590.0,686.7 L580.0,690.0 L573.3,688.3 L528.3,670.0 L530.8,662.5 L531.7,656.7 L528.3,648.3 L530.8,640.0 L533.3,630.0Z" fill="#000"/>
<path d="M523.3,550.0 L530.0,555.0 L535.0,550.0 L541.7,555.0 L542.5,573.3 L538.3,575.8 L530.0,575.8 L528.3,585.0 L523.3,581.7 L518.3,578.3 L520.0,571.7 L526.7,568.3 L528.3,561.7 L525.0,556.7Z" fill="#000"/>
<path d="M535.8,596.7 L540.0,600.0 L543.3,610.0 L548.3,606.7 L551.7,603.3 L555.0,613.3 L560.0,618.3 L553.3,620.0 L543.3,618.3 L538.3,610.0Z" fill="#000"/>
</g>
<mask id="lt" maskUnits="userSpaceOnUse" x="300" y="215" width="1260" height="677"><rect x="300" y="215" width="1260" height="677" fill="#fff"/><g filter="url(#mblur)"><path d="M861.7,380.0 L880.0,378.3 L888.3,385.0 L883.3,393.3 L870.0,391.7Z" fill="#000" fill-opacity="0.50"/><path d="M866.7,346.7 L880.0,343.3 L885.0,351.7 L876.7,358.3 L866.7,355.0Z" fill="#000" fill-opacity="0.40"/><path d="M783.3,423.3 L813.3,420.0 L820.0,433.3 L800.0,443.3 L786.7,436.7Z" fill="#000" fill-opacity="0.30"/><path d="M828.3,430.0 L846.7,423.3 L853.3,436.7 L840.0,446.7 L830.0,443.3Z" fill="#000" fill-opacity="0.50"/><path d="M803.3,461.7 L870.0,458.3 L870.0,446.7 L820.0,450.0Z" fill="#000" fill-opacity="0.40"/><path d="M880.0,406.7 L903.3,403.3 L916.7,416.7 L903.3,433.3 L883.3,430.0Z" fill="#000" fill-opacity="0.35"/><path d="M950.0,413.3 L963.3,410.0 L970.0,423.3 L956.7,430.0Z" fill="#000" fill-opacity="0.50"/><path d="M918.3,335.0 L990.0,335.0 L976.7,378.3 L918.3,378.3Z" fill="#000" fill-opacity="0.22"/><path d="M1003.3,393.3 L1036.7,396.7 L1069.2,400.0 L1069.2,433.3 L1036.7,423.3 L1003.3,423.3Z" fill="#000" fill-opacity="0.30"/><path d="M760.0,368.3 L800.0,346.7 L836.7,340.0 L836.7,353.3 L800.0,363.3 L770.0,380.0Z" fill="#000" fill-opacity="0.30"/><path d="M1020.0,386.7 L1096.7,393.3 L1096.7,433.3 L1053.3,433.3 L1020.0,420.0Z" fill="#000" fill-opacity="0.32"/><path d="M1133.3,386.7 L1203.3,386.7 L1203.3,425.0 L1133.3,425.0Z" fill="#000" fill-opacity="0.32"/><path d="M1101.7,448.3 L1160.0,448.3 L1160.0,478.3 L1101.7,478.3Z" fill="#000" fill-opacity="0.40"/><path d="M1161.7,430.0 L1196.7,433.3 L1200.0,463.3 L1186.7,478.3 L1161.7,476.7Z" fill="#000" fill-opacity="0.48"/><path d="M1255.3,459.3 L1259.3,456.0 L1269.3,467.3 L1270.7,476.0 L1264.0,474.7Z" fill="#000" fill-opacity="0.55"/><path d="M773.3,476.7 L801.7,473.3 L801.7,500.0 L776.7,508.3Z" fill="#000" fill-opacity="0.45"/></g></mask>
<g filter="url(#contour)"><g mask="url(#lt)"><path d="M935.0,345.0 L928.3,335.8 L921.7,336.7 L918.3,346.7 L926.7,353.3 L935.0,358.3 L941.7,361.7 L936.7,368.3 L935.0,376.7 L925.0,375.0 L916.7,377.5 L913.3,370.0 L903.3,370.0 L895.0,366.7 L890.0,356.7 L884.2,348.3 L880.8,341.7 L872.5,342.5 L866.7,352.5 L858.3,357.5 L853.3,352.5 L846.7,348.3 L836.7,348.3 L835.8,341.7 L833.3,337.5 L823.3,344.2 L813.3,345.8 L800.0,347.5 L790.0,356.7 L777.5,360.8 L775.0,371.7 L765.0,379.2 L755.8,380.0 L748.3,374.2 L745.0,381.7 L745.0,386.7 L755.8,386.7 L755.8,394.2 L761.7,396.7 L770.0,401.7 L781.7,400.0 L790.0,395.8 L806.7,396.7 L810.0,406.7 L811.7,416.7 L806.7,425.0 L796.7,426.7 L788.3,420.8 L781.7,425.0 L776.9,424.0 L768.3,418.3 L764.6,419.0 L763.3,418.3 L755.8,418.3 L752.0,416.6 L748.3,411.7 L738.3,408.3 L731.7,413.3 L732.8,415.2 L731.7,416.7 L735.0,418.9 L736.7,421.7 L746.7,423.3 L749.2,421.4 L755.8,420.8 L756.7,430.0 L766.7,435.0 L776.7,440.0 L788.3,441.7 L795.8,446.7 L776.7,446.7 L766.7,448.3 L758.3,451.7 L751.7,458.3 L743.3,460.0 L736.7,458.3 L730.0,456.7 L728.3,466.7 L730.0,473.3 L731.7,483.3 L736.7,488.3 L743.3,485.0 L750.0,486.7 L760.0,483.3 L766.7,486.7 L770.0,495.0 L766.7,500.0 L760.0,503.3 L753.3,506.7 L746.7,503.3 L738.3,503.3 L733.3,510.0 L728.3,513.3 L735.0,515.0 L743.3,515.0 L751.7,513.3 L760.0,511.7 L770.0,510.0 L776.7,508.3 L785.0,506.7 L793.3,501.7 L801.7,495.0 L801.7,480.0 L798.3,468.3 L806.7,465.0 L816.7,461.7 L826.7,456.7 L836.7,459.2 L846.7,458.3 L856.7,458.3 L863.3,461.7 L870.0,456.7 L873.3,450.0 L870.0,441.7 L876.7,436.7 L886.7,436.7 L893.3,433.3 L900.0,438.3 L903.3,445.0 L910.0,441.7 L915.0,433.3 L920.0,426.7 L925.0,423.3 L930.0,426.7 L935.0,433.3 L941.7,436.7 L945.0,440.0 L951.7,445.0 L953.3,431.7 L961.7,428.3 L966.7,423.3 L973.3,416.7 L976.7,418.3 L983.3,423.3 L993.3,426.7 L996.7,431.7 L1006.7,430.0 L1013.3,426.7 L1023.3,423.3 L1030.0,420.8 L1036.7,418.3 L1045.0,421.7 L1050.0,426.7 L1053.3,433.3 L1061.7,431.7 L1070.0,433.3 L1076.7,438.3 L1083.3,431.7 L1091.7,430.0 L1096.7,431.7 L1093.3,440.0 L1086.7,447.5 L1086.7,451.7 L1101.7,450.0 L1105.0,451.7 L1113.3,455.0 L1121.7,456.7 L1120.0,463.3 L1110.8,468.3 L1113.3,475.0 L1118.3,475.0 L1123.3,468.3 L1133.3,465.0 L1143.3,466.7 L1145.0,473.3 L1151.7,478.3 L1158.3,478.3 L1165.0,473.3 L1170.0,466.7 L1176.7,470.0 L1179.2,480.0 L1185.0,487.5 L1190.8,480.0 L1195.0,468.3 L1203.3,470.0 L1210.0,476.7 L1216.7,478.3 L1226.7,473.3 L1236.7,476.7 L1243.3,473.3 L1250.0,476.7 L1260.0,478.3 L1270.0,476.7 L1275.0,470.0 L1280.0,468.3 L1283.3,463.3 L1286.7,453.3 L1285.0,445.8 L1278.3,446.7 L1270.0,441.7 L1265.0,435.0 L1260.0,436.7 L1253.3,433.3 L1250.0,418.3 L1205.0,420.0 L1203.3,405.0 L1200.0,400.8 L1191.7,401.7 L1183.3,405.0 L1176.7,403.3 L1173.3,396.7 L1166.7,393.3 L1158.3,395.0 L1153.3,400.0 L1148.3,395.0 L1150.0,386.7 L1141.7,385.8 L1135.0,390.0 L1133.3,395.0 L1096.7,398.3 L1093.3,393.3 L1086.7,395.0 L1081.7,389.2 L1073.3,390.8 L1069.2,386.7 L1060.0,383.3 L1051.7,386.7 L1041.7,388.3 L1031.7,387.5 L1025.0,386.7 L1020.0,383.3 L1013.3,385.0 L1003.3,380.0 L995.0,378.3 L985.0,375.8 L975.0,373.3 L975.2,369.3 L976.7,370.0 L980.0,360.0 L986.7,351.7 L995.0,345.0 L990.0,336.7 L984.8,337.5 L984.2,336.7 L982.1,338.0 L980.0,338.3 L977.3,341.0 L975.0,342.5 L972.8,345.6 L970.0,348.3 L969.4,350.3 L968.3,351.7 L965.0,359.2 L956.7,358.3 L948.3,352.5 L942.8,350.7 L943.3,350.0Z M808.3,388.3 L795.0,389.2 L793.3,385.0 L806.7,383.7Z M1052.5,400.8 L1043.3,401.7 L1040.0,395.0 L1046.7,392.5 L1053.3,395.0Z M986.7,400.0 L980.0,403.3 L978.3,395.0 L985.0,393.3Z M1088.3,403.3 L1076.7,402.5 L1075.0,396.7 L1083.3,395.0 L1090.0,398.3Z M1173.3,409.2 L1166.7,411.7 L1163.3,405.8 L1170.0,404.2Z M959.2,423.3 L953.3,425.0 L951.7,416.7 L958.3,415.0Z M1176.7,456.7 L1170.8,456.7 L1170.0,451.7 L1176.7,451.7Z M741.7,480.0 L734.2,480.8 L733.3,477.0 L740.8,476.7Z M1003.3,360.0 L1006.7,366.7 L1011.7,365.0 L1010.0,358.3Z" fill="#000" fill-rule="evenodd"/></g></g>
<g filter="url(#contour2)"><path d="M416.7,318.0 L408.7,323.3 L408.7,329.3 L420.7,330.0 L428.7,328.7 L434.0,323.3 L439.3,323.3 L443.3,330.0 L448.7,326.0 L451.3,320.7 L444.7,315.3 L439.3,312.7 L442.0,310.0 L450.0,311.3 L456.7,310.0 L462.0,306.0 L467.3,302.0 L474.0,298.0 L471.3,294.0 L462.0,288.7 L458.0,284.7 L452.7,288.7 L444.7,292.7 L439.3,291.3 L436.7,286.0 L436.7,275.3 L432.7,271.3 L428.7,279.3 L422.0,280.7 L418.0,286.0 L420.7,292.7 L430.0,295.3 L432.7,302.0 L428.7,306.0 L420.7,302.0 L411.3,299.3 L406.0,295.3 L402.0,303.3 L403.3,307.3 L410.0,310.0 L418.0,308.7 L426.0,310.0 L423.3,312.7Z M478.7,355.0 L470.7,360.3 L468.0,367.0 L466.7,371.0 L473.3,375.0 L478.7,377.7 L480.0,369.7Z M505.3,403.0 L513.3,408.3 L526.7,409.0 L537.3,408.3 L538.7,401.7 L534.7,393.7 L524.0,389.7 L513.3,387.0 L505.3,381.7 L500.0,375.0 L498.7,365.7 L494.7,356.3 L493.3,348.3 L488.0,352.3 L481.3,357.7 L484.0,364.3 L484.0,372.3 L485.3,381.7 L489.3,388.3 L497.3,396.3Z M453.3,408.3 L457.3,400.3 L453.3,397.7 L448.7,404.3 L448.7,411.0Z M340.0,415.0 L350.0,412.5 L363.8,415.0 L362.5,402.5 L345.0,401.2 L332.5,402.5Z M340.0,425.0 L345.0,430.0 L357.5,432.5 L368.8,431.2 L367.5,425.0 L355.0,422.5Z M560.0,428.8 L547.5,435.0 L550.0,438.0 L560.0,433.8 L570.0,428.8 L587.5,431.2 L587.5,427.5 L570.0,423.8Z M630.0,478.3 L631.7,478.8 L635.0,481.2 L642.3,479.1 L646.7,478.3 L653.3,475.0 L661.7,470.0 L660.0,465.0 L648.3,458.3 L647.5,458.2 L647.5,457.5 L645.4,458.0 L640.0,457.5 L632.5,461.2 L631.7,461.7 L625.0,468.3 L626.2,471.8 L625.0,473.8 L628.9,476.7Z M577.5,492.5 L575.0,480.0 L560.0,482.5 L565.0,496.2Z M605.0,495.0 L600.0,506.7 L601.7,511.7 L610.0,503.3 L616.7,493.3 L618.3,483.3 L611.7,481.7Z M436.2,506.2 L441.2,501.2 L438.8,492.5 L430.0,492.5 L430.0,502.5Z M540.0,510.0 L530.0,516.2 L520.0,508.8 L507.5,520.0 L497.5,533.8 L485.0,527.5 L475.0,516.2 L460.0,510.0 L460.0,515.0 L470.0,521.2 L480.0,527.5 L482.5,537.5 L492.5,546.2 L500.0,545.0 L490.0,537.5 L500.0,540.0 L511.2,525.0 L521.2,513.8 L531.2,521.2 L541.2,515.0Z M601.7,533.3 L608.3,526.7 L603.3,525.0 L595.0,530.0 L596.7,535.0Z M580.0,580.0 L571.7,575.0 L563.3,578.3 L563.3,583.3 L566.7,588.3 L573.3,593.3 L580.0,591.7 L583.3,585.0Z M646.7,595.0 L641.7,581.7 L633.3,576.7 L626.7,568.3 L620.0,558.3 L613.3,560.0 L616.7,570.0 L623.3,580.0 L628.3,588.3 L636.7,595.0 L640.0,606.7 L646.7,610.0Z M718.8,305.0 L720.0,300.0 L715.0,303.8Z M703.8,307.5 L703.8,303.8 L695.0,305.0 L696.2,308.8Z M752.5,387.5 L752.5,372.5 L745.0,385.0Z M670.7,383.7 L666.0,383.7 L666.7,387.0 L670.7,387.7Z M675.0,491.7 L678.3,484.2 L670.0,486.7 L663.3,488.3 L666.7,494.2Z M676.7,514.2 L680.0,501.7 L676.7,503.3 L666.7,508.3 L670.0,511.7Z M663.3,548.3 L663.3,540.0 L653.3,540.0 L655.0,546.7Z M760.8,555.0 L762.5,560.0 L760.0,566.7 L755.0,570.8 L748.3,565.8 L741.7,567.5 L745.0,573.3 L746.9,575.1 L748.3,580.0 L738.3,588.3 L728.3,591.7 L721.7,596.7 L715.0,590.0 L713.3,580.0 L713.6,578.7 L715.0,578.7 L718.3,568.3 L713.6,571.5 L703.3,570.0 L703.3,570.0 L703.3,570.0 L703.3,570.0 L706.7,578.7 L708.3,578.7 L706.7,586.7 L710.0,595.0 L706.7,601.7 L705.0,611.7 L708.3,621.7 L715.0,628.3 L720.0,630.0 L723.3,636.7 L726.7,626.7 L731.7,618.3 L730.0,606.7 L731.7,596.7 L740.0,591.7 L748.3,586.7 L756.7,580.0 L758.5,578.7 L761.7,577.5 L769.2,571.7 L774.2,564.2 L775.8,557.5 L779.2,550.0 L776.7,541.7 L769.2,539.2 L762.5,542.5 L757.5,539.2 L752.5,533.3 L745.8,526.7 L738.3,520.8 L730.0,514.2 L726.7,516.7 L730.8,526.7 L735.8,534.2 L740.8,542.5 L747.5,549.2 L755.0,552.5Z M681.7,555.0 L680.3,555.1 L676.7,553.3 L668.3,555.0 L667.6,556.3 L663.3,556.7 L664.6,561.2 L663.3,563.3 L666.5,569.6 L665.0,580.0 L670.0,586.7 L676.7,583.3 L677.5,580.0 L680.0,580.0 L681.7,566.7 L683.3,556.7 L681.6,555.8Z M690.0,581.7 L680.0,583.3 L685.0,590.0 L693.3,586.7Z M656.7,600.0 L648.3,601.7 L650.0,608.3 L656.7,606.7Z M658.3,613.3 L650.0,615.0 L651.7,621.7 L660.0,620.0Z M1443.3,401.7 L1442.5,390.0 L1440.0,388.3 L1440.8,400.0Z M1455.0,410.0 L1456.7,403.3 L1451.7,400.0 L1445.0,403.3 L1438.3,406.7 L1433.3,413.3 L1436.7,418.3 L1443.3,418.3 L1448.3,423.3 L1453.3,426.7 L1460.0,425.0 L1458.3,416.7Z M1393.3,440.7 L1394.7,430.0 L1394.7,419.3 L1397.3,407.3 L1400.0,395.3 L1398.0,391.3 L1395.3,398.0 L1391.3,410.0 L1387.3,419.3 L1382.0,427.3 L1378.0,434.0 L1371.3,439.3 L1366.0,448.7 L1364.7,456.7 L1370.0,456.7 L1375.3,459.3 L1380.7,456.7 L1383.3,450.0 L1388.7,446.0Z M1443.3,433.3 L1446.7,428.3 L1441.7,425.0 L1436.7,421.7 L1433.3,425.0 L1426.7,428.3 L1420.0,425.0 L1421.7,418.3 L1418.3,408.3 L1415.0,420.0 L1408.3,426.7 L1400.0,435.0 L1396.7,440.0 L1400.0,442.5 L1408.3,440.8 L1416.7,440.0 L1425.0,440.0 L1433.3,436.7Z M1396.7,451.7 L1410.0,448.3 L1426.7,443.3 L1425.0,442.0 L1408.3,444.7 L1395.0,448.3Z M1316.7,478.0 L1322.0,474.0 L1323.3,468.7 L1320.7,469.3 L1324.7,467.3 L1330.0,464.7 L1335.3,467.3 L1340.7,466.0 L1344.3,469.7 L1343.3,470.0 L1347.3,476.7 L1354.0,471.3 L1351.9,468.2 L1356.7,464.7 L1362.0,459.3 L1363.3,452.7 L1363.3,444.7 L1356.7,446.0 L1350.0,447.3 L1347.3,443.3 L1352.7,438.0 L1356.7,432.7 L1351.3,436.7 L1346.0,440.7 L1338.0,443.3 L1330.0,439.3 L1322.0,437.3 L1312.7,440.7 L1306.0,446.0 L1303.3,452.7 L1295.3,459.3 L1290.0,468.7 L1288.7,476.7 L1294.0,478.0 L1300.7,478.0 L1308.7,478.0 L1312.7,475.3 L1316.0,472.7 L1314.0,475.3Z M1308.7,452.7 L1316.7,446.0 L1324.7,443.3 L1326.0,446.0 L1318.0,450.0 L1311.3,456.7Z M1340.7,456.7 L1338.0,452.7 L1346.0,448.7 L1348.7,451.3Z M1318.0,468.7 L1314.0,464.7 L1322.0,456.7 L1332.7,452.7 L1335.3,455.3 L1326.0,460.7Z M1268.0,480.0 L1250.0,480.0 L1251.7,485.0 L1256.7,486.7 L1262.1,485.8 L1260.7,488.7 L1255.3,498.0 L1250.7,504.7 L1245.3,511.3 L1240.7,517.3 L1235.3,524.0 L1230.0,529.3 L1232.7,540.0 L1238.0,542.7 L1246.0,537.3 L1252.7,532.0 L1258.7,526.7 L1261.3,520.0 L1255.3,522.7 L1251.3,518.7 L1256.0,515.3 L1261.3,510.0 L1267.3,500.7 L1270.7,490.7 L1269.5,480.8 L1270.0,480.0 L1269.4,480.0 L1269.3,479.3Z M1291.3,480.0 L1284.7,483.3 L1278.0,488.0 L1272.7,493.3 L1273.3,504.0 L1276.7,502.7 L1282.0,496.0 L1288.7,488.7 L1294.0,482.0Z M1255.3,560.0 L1259.3,553.3 L1260.7,546.7 L1251.3,545.3 L1240.7,546.7 L1230.0,548.0 L1224.7,545.3 L1219.3,546.7 L1210.0,550.7 L1203.3,556.0 L1211.3,558.7 L1219.3,557.3 L1227.3,558.7 L1235.3,556.0 L1243.3,560.0Z M1227.5,562.5 L1220.0,570.0 L1205.0,580.0 L1190.0,590.0 L1175.0,600.0 L1182.5,602.5 L1195.0,595.0 L1200.0,591.7 L1200.0,596.7 L1203.3,593.3 L1213.3,583.3 L1221.7,576.7 L1230.0,568.3 L1226.8,565.2Z" fill="#000" fill-opacity="0.88" fill-rule="evenodd"/></g>
<g filter="url(#speck)">
<path d="M430.7,433.7 L444.0,428.3 L464.0,425.7 L474.7,441.7 L480.0,459.0 L474.7,475.0 L458.7,472.3 L444.0,468.3 L426.7,465.7 L421.3,455.0 L433.3,447.0Z" fill="#000" fill-opacity="0.95"/>
<path d="M480.0,459.0 L493.3,447.0 L505.3,451.0 L501.3,457.7 L492.0,467.0 L485.3,465.7Z" fill="#000" fill-opacity="0.85"/>
<path d="M421.3,468.3 L444.0,471.0 L464.0,489.7 L464.0,508.3 L444.0,508.3 L430.7,501.7 L421.3,484.3Z" fill="#000" fill-opacity="0.65"/>
<path d="M458.7,511.0 L480.0,508.3 L493.3,511.0 L510.7,499.0 L520.0,508.3 L533.3,489.7 L541.3,495.0 L542.7,535.0 L456.0,535.0Z" fill="#000" fill-opacity="0.85"/>
<path d="M546.7,432.3 L564.0,423.0 L589.3,423.0 L592.0,441.7 L597.3,468.3 L592.0,500.3 L584.0,511.0 L570.7,535.0 L546.7,535.0 L548.0,495.0 L546.7,468.3 L541.3,448.3Z" fill="#000" fill-opacity="0.55"/>
<path d="M560.0,479.0 L573.3,476.3 L581.3,489.7 L573.3,505.7 L560.0,500.3Z" fill="#000" fill-opacity="0.8"/>
<path d="M560.0,423.0 L577.3,421.7 L586.7,431.0 L573.3,436.3 L562.7,432.3Z" fill="#000" fill-opacity="0.85"/>
<path d="M625.3,467.0 L634.7,459.0 L648.0,457.7 L662.7,465.7 L658.7,475.0 L648.0,481.7 L629.3,480.3Z" fill="#000" fill-opacity="1.0"/>
<path d="M602.7,501.7 L613.3,481.7 L624.0,487.0 L618.7,500.3 L608.0,511.0 L600.0,516.3Z" fill="#000" fill-opacity="0.9"/>
<path d="M597.3,529.7 L608.0,521.7 L613.3,527.0 L605.3,535.0 L596.0,535.0Z" fill="#000" fill-opacity="0.9"/>
<path d="M653.3,485.7 L673.3,489.7 L679.9,484.3 L679.9,516.3 L664.0,511.0 L653.3,500.3Z" fill="#000" fill-opacity="0.6"/>
<path d="M336.7,423.0 L370.0,422.3 L371.3,432.3 L366.0,445.7 L363.3,457.7 L354.0,459.0 L343.3,452.3 L338.0,439.0Z" fill="#000" fill-opacity="0.66"/>
<path d="M360.7,422.3 L370.0,422.3 L371.3,432.3 L366.0,433.7Z" fill="#000" fill-opacity="0.95"/>
<path d="M336.7,467.0 L350.0,468.3 L363.3,477.7 L363.3,492.3 L354.0,497.7 L344.7,489.7Z" fill="#000" fill-opacity="0.7"/>
<path d="M344.7,495.0 L354.0,500.3 L363.3,511.0 L372.7,519.0 L379.3,535.0 L366.0,535.0 L355.3,516.3 L346.0,505.7Z" fill="#000" fill-opacity="0.7"/>
<path d="M372.7,533.0 L386.0,537.0 L395.3,551.7 L394.0,569.0 L383.3,570.3 L378.0,559.7 L374.0,546.3Z" fill="#000" fill-opacity="0.7"/>
<path d="M402.0,590.3 L410.0,597.0 L415.3,605.0 L414.0,615.7 L408.7,613.0 L406.0,599.7Z" fill="#000" fill-opacity="0.8"/>
<path d="M423.3,610.3 L434.0,605.0 L440.7,607.7 L436.7,615.7 L427.3,615.7Z" fill="#000" fill-opacity="0.8"/>
<path d="M415.3,525.0 L423.3,525.0 L435.3,543.7 L443.3,557.0 L448.7,569.0 L452.7,583.7 L458.0,594.3 L452.7,605.0 L444.7,611.7 L440.7,607.7 L450.0,594.3 L446.0,583.7 L442.0,569.0 L436.7,557.0 L428.7,543.7Z" fill="#000" fill-opacity="0.62"/>
<path d="M450.0,525.0 L543.3,525.0 L543.3,546.3 L516.7,551.7 L494.0,550.3 L476.7,538.3 L460.7,535.7Z" fill="#000" fill-opacity="0.9"/>
<path d="M455.3,619.7 L482.0,621.7 L490.0,629.0 L491.3,645.0 L486.0,645.0 L483.3,626.3 L456.7,623.0Z" fill="#000" fill-opacity="0.6"/>
<path d="M560.0,430.0 L588.3,430.0 L596.7,463.3 L593.3,500.0 L576.7,523.3 L560.0,546.7Z" fill="#000" fill-opacity="0.5"/>
<path d="M600.0,485.0 L615.0,480.0 L621.7,485.0 L616.7,510.0 L601.7,523.3 L595.0,516.7Z" fill="#000" fill-opacity="0.85"/>
<path d="M626.7,523.3 L646.7,508.3 L648.3,533.3 L631.7,543.3Z" fill="#000" fill-opacity="0.66"/>
<path d="M650.0,485.0 L680.0,483.3 L683.3,516.7 L666.7,530.0 L653.3,530.0Z" fill="#000" fill-opacity="0.62"/>
<path d="M560.0,538.3 L606.7,536.7 L610.0,546.7 L560.0,550.0Z" fill="#000" fill-opacity="0.62"/>
<path d="M623.3,530.0 L650.0,523.3 L650.0,546.7 L626.7,550.0Z" fill="#000" fill-opacity="0.6"/>
<path d="M546.7,555.0 L606.7,540.0 L646.7,555.0 L646.7,563.3 L590.0,561.7 L556.7,570.0Z" fill="#000" fill-opacity="0.6"/>
<path d="M653.3,583.3 L693.3,580.0 L690.0,626.7 L683.3,660.0 L663.3,660.0 L673.3,623.3 L670.0,598.3Z" fill="#000" fill-opacity="0.62"/>
<path d="M556.7,570.0 L590.0,573.3 L586.7,610.0 L566.7,613.3 L556.7,595.0Z" fill="#000" fill-opacity="0.62"/>
<path d="M606.7,606.7 L646.7,611.7 L646.7,646.7 L630.0,646.7 L620.0,626.7Z" fill="#000" fill-opacity="0.55"/>
<path d="M440.0,550.0 L463.3,550.0 L460.0,616.7 L440.0,616.7Z" fill="#000" fill-opacity="0.55"/>
</g>
<g filter="url(#rough)">
<path d="M1267.3,522.7 L1275.3,510.7 L1283.3,498.7" fill="none" stroke="#0a66ea" stroke-width="1.4" stroke-linejoin="round" stroke-linecap="round"/>
<path d="M1272.7,526.7 L1278.0,518.7 L1283.3,510.7" fill="none" stroke="#0a66ea" stroke-width="1.4" stroke-linejoin="round" stroke-linecap="round"/>
<path d="M1288.7,517.3 L1295.3,509.3 L1300.7,502.7" fill="none" stroke="#0a66ea" stroke-width="1.4" stroke-linejoin="round" stroke-linecap="round"/>
<path d="M1270.0,538.7 L1276.7,529.3 L1283.3,525.3" fill="none" stroke="#0a66ea" stroke-width="1.4" stroke-linejoin="round" stroke-linecap="round"/>
<path d="M1263.3,529.3 L1270.0,518.7" fill="none" stroke="#0a66ea" stroke-width="1.4" stroke-linejoin="round" stroke-linecap="round"/>
<path d="M1291.3,510.7 L1296.7,504.0" fill="none" stroke="#0a66ea" stroke-width="1.4" stroke-linejoin="round" stroke-linecap="round"/>
<path d="M1216.7,568.0 L1224.7,565.3 L1232.7,566.7 L1240.7,566.0" fill="none" stroke="#0a66ea" stroke-width="2.2" stroke-linejoin="round" stroke-linecap="round"/>
<path d="M1224.7,570.7 L1219.3,576.0" fill="none" stroke="#0a66ea" stroke-width="2.2" stroke-linejoin="round" stroke-linecap="round"/>
<path d="M1232.7,569.3 L1227.3,577.3" fill="none" stroke="#0a66ea" stroke-width="2.2" stroke-linejoin="round" stroke-linecap="round"/>
<path d="M430.0,238.0 L428.7,250.0 L424.7,256.7 L419.3,260.7 L415.3,266.0 L414.0,272.7 L408.7,274.7" fill="none" stroke="#0a66ea" stroke-width="1.5" stroke-linejoin="round" stroke-linecap="round"/>
<path d="M424.7,252.7 L426.7,258.7" fill="none" stroke="#0a66ea" stroke-width="3.5" stroke-linejoin="round" stroke-linecap="round"/>
<path d="M424.7,256.7 L432.7,255.3 L440.7,260.7 L450.0,262.0 L455.3,263.3 L456.7,258.7" fill="none" stroke="#0a66ea" stroke-width="1.3" stroke-linejoin="round" stroke-linecap="round"/>
<path d="M436.7,266.0 L440.7,262.0" fill="none" stroke="#0a66ea" stroke-width="1.3" stroke-linejoin="round" stroke-linecap="round"/>
<path d="M416.7,278.0 L418.0,290.0" fill="none" stroke="#0a66ea" stroke-width="1.2" stroke-linejoin="round" stroke-linecap="round"/>
<path d="M483.3,304.7 L488.7,300.7 L498.0,300.7" fill="none" stroke="#0a66ea" stroke-width="1.5" stroke-linejoin="round" stroke-linecap="round"/>
<path d="M487.3,302.0 L489.3,301.3" fill="none" stroke="#0a66ea" stroke-width="3.5" stroke-linejoin="round" stroke-linecap="round"/>
<path d="M487.3,315.3 L494.0,320.7 L496.7,328.7" fill="none" stroke="#00aeff" stroke-width="1.2" stroke-linejoin="round" stroke-linecap="round"/>
<path d="M396.7,336.7 L395.3,344.7" fill="none" stroke="#00aeff" stroke-width="1.5" stroke-linejoin="round" stroke-linecap="round"/>
<path d="M408.0,331.3 L408.7,340.7 L414.0,347.3 L430.0,346.0" fill="none" stroke="#00aeff" stroke-width="1.2" stroke-linejoin="round" stroke-linecap="round"/>
<path d="M457.3,368.3 L458.7,373.7 L465.3,373.0" fill="none" stroke="#0a66ea" stroke-width="1.2" stroke-linejoin="round" stroke-linecap="round"/>
<path d="M474.7,379.0 L470.7,388.3 L465.3,393.7 L464.0,400.3" fill="none" stroke="#00aeff" stroke-width="1.6" stroke-linejoin="round" stroke-linecap="round"/>
<path d="M457.3,412.3 L468.0,408.3" fill="none" stroke="#00aeff" stroke-width="1.5" stroke-linejoin="round" stroke-linecap="round"/>
<path d="M358.8,327.5 L362.5,333.8" fill="none" stroke="#00aeff" stroke-width="2.5" stroke-linejoin="round" stroke-linecap="round"/>
<path d="M1415.0,423.3 L1417.5,413.3 L1418.3,407.5" fill="none" stroke="#0a66ea" stroke-width="3" stroke-linejoin="round" stroke-linecap="round"/>
<path d="M1312.0,391.3 L1316.7,393.0" fill="none" stroke="#00aeff" stroke-width="3" stroke-linejoin="round" stroke-linecap="round"/>
<path d="M1326.3,395.0 L1328.3,403.3" fill="none" stroke="#00aeff" stroke-width="2.2" stroke-linejoin="round" stroke-linecap="round"/>
<path d="M1330.0,396.7 L1334.2,405.0" fill="none" stroke="#0a66ea" stroke-width="1.6" stroke-linejoin="round" stroke-linecap="round"/>
<path d="M1340.8,391.3 L1345.0,392.0" fill="none" stroke="#00aeff" stroke-width="3" stroke-linejoin="round" stroke-linecap="round"/>
<path d="M1307.5,401.7 L1310.0,405.0" fill="none" stroke="#0a66ea" stroke-width="1.4" stroke-linejoin="round" stroke-linecap="round"/>
<path d="M1441.3,388.3 L1441.7,395.0 L1440.0,401.7" fill="none" stroke="#00aeff" stroke-width="1.8" stroke-linejoin="round" stroke-linecap="round"/>
<path d="M715.5,304.2 L720.0,300.5" fill="none" stroke="#0a66ea" stroke-width="3" stroke-linejoin="round" stroke-linecap="round"/>
<path d="M695.5,306.5 L703.0,305.5" fill="none" stroke="#0a66ea" stroke-width="4" stroke-linejoin="round" stroke-linecap="round"/>
<path d="M667.3,384.6 L669.6,386.3" fill="none" stroke="#0a66ea" stroke-width="4" stroke-linejoin="round" stroke-linecap="round"/>
<path d="M560.0,593.3 L563.3,603.3 L568.3,610.0" fill="none" stroke="#0a66ea" stroke-width="1.5" stroke-linejoin="round" stroke-linecap="round"/>
<path d="M593.3,585.0 L600.0,595.0 L606.7,606.7 L620.0,615.0 L631.7,621.7 L645.0,620.0" fill="none" stroke="#0a66ea" stroke-width="3" stroke-linejoin="round" stroke-linecap="round"/>
<path d="M631.7,621.7 L633.3,633.3 L636.7,641.7 L643.3,643.3" fill="none" stroke="#00aeff" stroke-width="2" stroke-linejoin="round" stroke-linecap="round"/>
<path d="M645.8,555.0 L646.7,573.3" fill="none" stroke="#0a66ea" stroke-width="1.5" stroke-linejoin="round" stroke-linecap="round"/>
<path d="M653.3,583.7 L665.0,585.0" fill="none" stroke="#0a66ea" stroke-width="1.5" stroke-linejoin="round" stroke-linecap="round"/>
<path d="M720.0,640.0 L716.7,653.3 L720.0,666.7 L726.7,663.3 L728.3,650.0 L723.3,641.7 L720.0,640.0" fill="none" stroke="#0a66ea" stroke-width="1.5" stroke-linejoin="round" stroke-linecap="round"/>
<path d="M673.3,600.0 L680.0,606.7 L681.7,618.3 L686.7,626.7 L683.3,640.0 L676.7,653.3 L673.3,658.3 L666.7,656.7 L665.0,648.3" fill="none" stroke="#0a66ea" stroke-width="2.5" stroke-linejoin="round" stroke-linecap="round"/>
<path d="M570.0,548.3 L581.7,546.7 L586.7,543.3 L606.7,541.7" fill="none" stroke="#0a66ea" stroke-width="2" stroke-linejoin="round" stroke-linecap="round"/>
<path d="M578.3,555.0 L580.0,566.7 L590.0,575.0" fill="none" stroke="#0a66ea" stroke-width="1.2" stroke-linejoin="round" stroke-linecap="round"/>
<path d="M555.0,565.0 L566.7,566.7" fill="none" stroke="#00aeff" stroke-width="2" stroke-linejoin="round" stroke-linecap="round"/>
<path d="M456.7,621.7 L481.7,623.3 L490.0,630.0" fill="none" stroke="#00aeff" stroke-width="1.2" stroke-linejoin="round" stroke-linecap="round"/>
<path d="M488.3,638.3 L493.3,646.7 L493.3,660.0" fill="none" stroke="#00aeff" stroke-width="1.5" stroke-linejoin="round" stroke-linecap="round"/>
<path d="M450.0,596.7 L455.0,600.0" fill="none" stroke="#00aeff" stroke-width="3" stroke-linejoin="round" stroke-linecap="round"/>
<path d="M443.3,556.7 L450.0,565.0 L446.7,583.3 L453.3,590.0" fill="none" stroke="#00aeff" stroke-width="1.2" stroke-linejoin="round" stroke-linecap="round"/>
<path d="M435.0,435.0 L440.0,452.5" fill="none" stroke="#0a66ea" stroke-width="3.5" stroke-linejoin="round" stroke-linecap="round"/>
<path d="M445.0,432.5 L455.0,455.0" fill="none" stroke="#0a66ea" stroke-width="3.5" stroke-linejoin="round" stroke-linecap="round"/>
<path d="M460.0,427.5 L463.8,447.5 L465.0,467.5" fill="none" stroke="#0a66ea" stroke-width="3.5" stroke-linejoin="round" stroke-linecap="round"/>
<path d="M425.0,455.0 L435.0,467.5" fill="none" stroke="#0a66ea" stroke-width="3.5" stroke-linejoin="round" stroke-linecap="round"/>
<path d="M440.0,457.5 L450.0,470.0" fill="none" stroke="#0a66ea" stroke-width="3.5" stroke-linejoin="round" stroke-linecap="round"/>
<path d="M470.0,455.0 L480.0,475.0" fill="none" stroke="#0a66ea" stroke-width="3.5" stroke-linejoin="round" stroke-linecap="round"/>
<path d="M485.0,450.0 L497.5,447.5 L493.8,465.0" fill="none" stroke="#0a66ea" stroke-width="3.5" stroke-linejoin="round" stroke-linecap="round"/>
<path d="M455.0,485.0 L462.5,502.5" fill="none" stroke="#0a66ea" stroke-width="3.5" stroke-linejoin="round" stroke-linecap="round"/>
<path d="M450.0,435.0 L460.0,442.5" fill="none" stroke="#0a66ea" stroke-width="3.5" stroke-linejoin="round" stroke-linecap="round"/>
<path d="M422.5,460.0 L425.0,485.0" fill="none" stroke="#0a66ea" stroke-width="1.5" stroke-linejoin="round" stroke-linecap="round"/>
<path d="M452.5,470.0 L450.0,492.5" fill="none" stroke="#0a66ea" stroke-width="1.5" stroke-linejoin="round" stroke-linecap="round"/>
<path d="M475.0,497.5 L480.0,510.0" fill="none" stroke="#0a66ea" stroke-width="1.5" stroke-linejoin="round" stroke-linecap="round"/>
<path d="M535.0,490.0 L537.5,507.5" fill="none" stroke="#0a66ea" stroke-width="1.5" stroke-linejoin="round" stroke-linecap="round"/>
<path d="M440.0,472.5 L450.0,482.5" fill="none" stroke="#0a66ea" stroke-width="1.5" stroke-linejoin="round" stroke-linecap="round"/>
<path d="M370.0,442.5 L380.0,447.5 L382.5,465.0 L395.0,480.0 L405.0,497.5 L412.5,517.5 L422.5,527.5 L430.0,545.0 L440.0,560.0 L450.0,580.0 L452.5,600.0 L435.0,612.5" fill="none" stroke="#0a66ea" stroke-width="1.4" stroke-linejoin="round" stroke-linecap="round"/>
<path d="M337.5,440.0 L350.0,445.0 L362.5,460.0" fill="none" stroke="#00aeff" stroke-width="2" stroke-linejoin="round" stroke-linecap="round"/>
<path d="M342.5,467.5 L355.0,475.0 L360.0,490.0" fill="none" stroke="#00aeff" stroke-width="2.5" stroke-linejoin="round" stroke-linecap="round"/>
<path d="M345.0,447.5 L352.5,460.0" fill="none" stroke="#0a66ea" stroke-width="2" stroke-linejoin="round" stroke-linecap="round"/>
<path d="M357.5,510.0 L372.5,520.0" fill="none" stroke="#0a66ea" stroke-width="2.5" stroke-linejoin="round" stroke-linecap="round"/>
<path d="M372.5,535.0 L387.5,545.0 L392.5,565.0" fill="none" stroke="#00aeff" stroke-width="2.5" stroke-linejoin="round" stroke-linecap="round"/>
<path d="M425.0,612.5 L440.0,607.5" fill="none" stroke="#00aeff" stroke-width="2" stroke-linejoin="round" stroke-linecap="round"/>
<path d="M552.5,460.0 L550.0,480.0 L557.5,497.5 L550.0,520.0 L555.0,540.0" fill="none" stroke="#0a66ea" stroke-width="2.5" stroke-linejoin="round" stroke-linecap="round"/>
<path d="M572.5,455.0 L575.0,472.5 L565.0,485.0 L572.5,500.0 L562.5,515.0 L560.0,530.0" fill="none" stroke="#0a66ea" stroke-width="3" stroke-linejoin="round" stroke-linecap="round"/>
<path d="M587.5,447.5 L592.5,467.5 L587.5,485.0 L590.0,500.0 L585.0,510.0" fill="none" stroke="#0a66ea" stroke-width="2.5" stroke-linejoin="round" stroke-linecap="round"/>
<path d="M552.5,545.0 L575.0,547.5 L597.5,540.0 L607.5,525.0 L610.0,520.0" fill="none" stroke="#0a66ea" stroke-width="2" stroke-linejoin="round" stroke-linecap="round"/>
<path d="M630.0,540.0 L632.5,527.5 L645.0,522.5" fill="none" stroke="#0a66ea" stroke-width="1.5" stroke-linejoin="round" stroke-linecap="round"/>
<path d="M607.5,485.0 L612.5,492.5 L605.0,510.0" fill="none" stroke="#0a66ea" stroke-width="3" stroke-linejoin="round" stroke-linecap="round"/>
</g>
</g>
<g fill="none" stroke="#000" stroke-width="3.9" stroke-linejoin="round" stroke-linecap="round">
<path d="M361.2,235.5 L941.8,235.5 L941.8,226.2 L950.0,226.2 L951.2,230.8 L952.5,235.3 L952.5,240.0 L958.6,242.2 L965.0,243.8 L969.2,244.4 L972.5,247.0 L976.3,246.3 L980.0,245.5 L992.5,245.5 L996.4,248.1 L1000.0,251.2 L1004.2,252.2 L1007.5,255.0 L1013.7,256.9 L1020.0,258.8 L1025.9,255.8 L1032.5,255.0 L1037.5,258.8 L1050.0,259.5 L1056.3,260.5 L1062.5,261.8 L1058.3,265.0 L1052.9,268.4 L1046.7,270.0 L1041.2,273.4 L1035.0,275.0 L1030.1,278.5 L1025.0,281.7 L1020.7,283.8 L1017.7,288.0 L1013.3,290.0 L1008.3,293.9 L1002.5,296.7 L1008.0,295.7 L1013.3,294.2 L1018.6,294.0 L1023.3,291.7 L1027.5,291.0 L1031.7,290.0 L1034.2,291.7 L1033.1,295.1 L1031.7,298.3 L1036.7,298.3 L1041.7,299.2 L1046.7,300.8 L1050.0,299.1 L1051.7,295.8 L1055.4,293.2 L1060.0,292.5 L1064.5,291.6 L1068.3,289.2 L1072.2,286.2 L1076.7,284.2 L1080.3,280.6 L1085.0,278.3 L1088.9,276.2 L1093.3,275.8 L1099.2,276.7 L1096.7,280.0 L1093.5,281.7 L1090.0,282.5 L1086.5,285.8 L1084.2,290.0 L1084.2,295.0 L1086.6,292.3 L1090.0,290.8 L1096.7,290.8 L1101.7,293.3 L1104.0,296.8 L1106.7,300.0 L1113.3,300.8 L1116.5,302.4 L1120.0,303.3 L1125.0,300.0 L1129.1,298.0 L1133.3,296.7 L1143.3,295.8 L1156.7,295.0 L1157.5,300.8 L1163.3,302.5 L1170.8,302.5 L1174.2,308.3 L1176.6,311.3 L1179.2,314.2 L1170.0,314.2 L1163.3,313.3 L1160.0,317.5 L1156.2,316.8 L1153.3,314.2 L1149.6,313.9 L1146.7,311.7 L1141.8,313.6 L1136.7,314.2 L1130.0,315.8 L1125.0,320.0 L1121.7,322.5 L1118.3,318.3 L1113.3,320.0 L1110.5,323.9 L1108.3,328.3 L1104.2,333.3 L1102.2,336.8 L1100.0,340.0 L1097.9,343.6 L1095.0,346.7 L1091.7,352.5 L1095.0,352.5 L1098.5,348.9 L1101.7,345.0 L1104.9,341.6 L1108.3,338.3 L1111.4,335.1 L1115.0,332.5 L1115.8,335.0 L1112.8,337.9 L1110.8,341.7 L1107.9,345.6 L1105.8,350.0 L1104.7,354.4 L1102.5,358.3 L1101.1,363.3 L1100.0,368.3 L1099.3,373.3 L1098.7,378.3 L1096.8,383.2 L1096.7,388.3 L1097.5,398.3 L1097.8,403.4 L1099.2,408.3 L1100.3,413.7 L1098.8,410.0 L1100.4,413.6 L1101.0,417.5 L1102.5,421.9 L1106.0,425.0 L1112.5,427.5 L1115.8,424.8 L1120.0,423.8 L1122.3,419.3 L1125.0,415.0 L1128.3,413.7 L1130.2,408.6 L1130.8,403.3 L1130.0,393.3 L1127.6,389.5 L1126.7,385.0 L1125.4,380.0 L1124.2,375.0 L1125.0,365.0 L1125.6,360.4 L1128.3,356.7 L1129.2,348.3 L1133.3,343.3 L1136.8,342.0 L1140.0,340.0 L1143.7,338.0 L1146.7,335.0 L1150.1,333.5 L1153.3,331.7 L1158.3,329.2 L1156.7,322.5 L1160.0,318.3 L1163.3,321.7 L1167.2,324.2 L1171.7,325.0 L1176.0,326.3 L1180.0,328.3 L1184.0,330.8 L1188.3,332.5 L1190.2,335.5 L1192.5,338.3 L1191.7,348.3 L1190.2,353.3 L1189.2,358.3 L1187.2,361.7 L1185.0,365.0 L1180.0,367.5 L1178.3,373.3 L1181.7,378.3 L1184.7,376.4 L1186.7,373.3 L1190.0,371.1 L1191.7,367.5 L1195.0,366.2 L1198.3,365.0 L1204.2,366.7 L1205.5,370.2 L1207.5,373.3 L1209.4,377.3 L1209.2,381.7 L1210.0,393.3 L1207.9,397.3 L1206.7,401.7 L1203.3,405.0 L1201.7,409.2 L1200.8,413.7 L1197.5,417.5 L1194.1,419.9 L1192.5,423.8 L1190.0,427.0 L1194.5,431.6 L1200.0,435.0 L1210.0,434.5 L1214.9,433.0 L1220.0,432.5 L1224.9,429.8 L1230.2,427.9 L1234.5,424.0 L1240.0,422.5 L1245.0,421.2 L1250.0,420.0 L1254.6,416.8 L1260.0,415.0 L1266.7,413.3 L1270.3,409.7 L1275.0,407.5 L1278.6,403.7 L1283.3,401.7 L1285.8,396.7 L1281.7,391.7 L1282.5,386.7 L1281.7,385.0 L1286.8,384.8 L1291.7,383.3 L1301.7,383.0 L1306.9,383.6 L1311.7,385.8 L1320.0,386.3 L1324.1,385.1 L1328.3,385.0 L1331.5,382.3 L1335.0,380.0 L1340.8,378.3 L1341.7,371.7 L1340.0,366.7 L1337.5,364.2 L1343.3,360.8 L1347.3,358.6 L1350.0,355.0 L1353.5,350.1 L1358.3,346.7 L1361.6,344.1 L1365.0,341.7 L1370.8,340.0 L1440.0,340.0 L1441.7,334.2 L1444.2,331.7 L1448.3,331.7 L1453.3,330.8 L1458.3,330.0 L1456.7,326.7 L1459.7,324.3 L1462.5,321.7 L1466.7,316.7 L1465.8,308.3 L1468.3,304.2 L1471.7,300.0 L1472.5,295.0 L1477.0,291.0 L1480.0,285.8 L1484.8,281.1 L1488.3,275.5 L1492.5,276.7 L1493.3,282.5 L1500.0,280.8 L1504.4,280.4 L1508.3,278.3 L1513.3,280.8 L1516.9,283.4 L1519.7,286.7 L1519.7,306.7 L1518.7,321.7 L1521.9,323.2 L1525.0,325.0 L1526.2,329.1 L1526.7,333.3 L1531.7,335.8 L1534.2,340.0 L1533.3,343.3 L1535.3,345.8 L1531.7,350.0 L1525.0,350.0 L1520.4,351.7 L1516.7,355.0 L1511.7,356.7 L1505.0,355.0 L1501.7,356.7 L1500.0,360.0 L1497.6,357.0 L1496.7,353.3 L1493.3,356.7 L1492.4,361.9 L1490.0,366.7 L1483.3,368.3 L1478.5,370.6 L1473.3,371.7 L1470.3,374.3 L1466.7,375.8 L1464.2,381.7 L1460.0,385.0 L1456.7,388.7 L1455.8,395.0 L1454.2,396.7 L1456.7,401.7 L1458.3,405.0 L1455.4,407.1 L1452.5,409.2 L1451.7,413.3 L1456.7,416.7 L1460.0,421.7 L1460.8,426.7 L1461.3,428.7 L1458.1,430.0 L1455.0,431.7 L1451.9,433.8 L1448.3,435.0 L1445.4,437.4 L1441.7,437.5 L1437.6,438.9 L1433.3,440.0 L1425.0,440.0 L1416.7,440.8 L1408.3,441.7 L1404.2,442.8 L1400.0,443.3 L1396.6,444.4 L1393.3,445.8 L1389.2,448.9 L1386.7,453.3 L1387.9,458.5 L1390.0,463.3 L1389.2,471.7 L1387.9,475.8 L1386.7,480.0 L1383.9,483.2 L1381.7,486.7 L1378.8,489.7 L1376.7,493.3 L1374.9,496.6 L1371.7,498.3 L1369.2,499.2 L1366.7,496.7 L1364.8,493.5 L1361.7,491.7 L1358.3,486.7 L1356.7,480.0 L1354.2,478.3 L1353.3,481.7 L1354.4,486.3 L1355.8,490.9 L1358.3,495.0 L1359.3,500.2 L1361.7,505.0 L1363.2,509.1 L1364.2,513.3 L1365.0,520.0 L1362.7,525.1 L1360.0,530.0 L1357.5,535.5 L1353.3,540.0 L1350.6,544.0 L1348.3,548.3 L1345.8,546.7 L1346.1,541.4 L1348.3,536.7 L1349.9,532.0 L1353.3,528.3 L1351.0,525.3 L1350.0,521.7 L1346.9,519.7 L1345.0,516.7 L1343.0,511.8 L1341.7,506.7 L1339.8,501.0 L1340.0,495.0 L1339.7,490.6 L1341.7,486.7 L1344.2,483.3 L1340.0,486.7 L1335.8,491.7 L1335.4,496.1 L1333.3,500.0 L1335.1,504.0 L1335.0,508.3 L1333.3,515.0 L1336.7,520.0 L1339.4,523.6 L1341.7,527.5 L1336.4,527.4 L1331.7,525.0 L1334.2,531.3 L1338.3,536.7 L1333.3,537.2 L1328.3,538.3 L1334.6,540.9 L1340.0,545.0 L1325.0,545.0 L1329.8,547.9 L1334.1,551.4 L1338.3,555.0 L1342.4,553.0 L1346.7,551.7 L1347.5,556.7 L1349.6,560.6 L1350.0,565.0 L1350.4,569.4 L1352.5,573.3 L1353.0,578.7 L1355.8,583.3 L1350.0,586.7 L1348.4,590.0 L1346.7,593.3 L1341.7,596.7 L1339.2,600.0 L1336.7,603.3 L1335.0,608.0 L1331.7,611.7 L1327.9,614.2 L1323.3,615.0 L1319.3,617.2 L1315.0,618.7 L1317.5,620.0 L1313.7,624.2 L1308.6,626.9 L1305.0,631.2 L1298.9,633.3 L1292.5,633.8 L1290.0,638.3 L1285.0,640.5 L1282.5,645.0 L1279.9,648.7 L1277.5,652.5 L1273.9,656.5 L1269.1,659.1 L1265.0,662.5 L1260.7,667.2 L1255.0,670.0 L1250.0,671.8 L1245.0,673.8 L1243.2,677.3 L1243.8,681.2 L1239.9,685.1 L1237.5,690.0 L1234.6,694.8 L1232.5,700.0 L1231.8,706.4 L1230.0,712.5 L1231.2,716.2 L1232.4,720.8 L1233.7,725.3 L1233.8,730.0 L1235.0,743.0 L1235.0,743.0 L1236.1,747.7 L1238.3,751.9 L1240.0,756.3 L1241.5,762.4 L1244.2,768.0 L1245.0,774.7 L1247.0,779.0 L1249.0,783.3 L1250.0,788.0 L1251.8,794.1 L1255.0,799.7 L1255.7,805.1 L1257.8,810.0 L1260.3,814.7 L1260.8,826.3 L1260.0,841.3 L1258.1,844.4 L1257.5,848.0 L1255.5,851.1 L1255.0,854.7 L1253.3,859.7 L1249.8,860.4 L1246.7,862.2 L1239.2,861.3 L1237.3,858.2 L1236.7,854.7 L1235.0,851.3 L1233.3,848.0 L1229.2,843.8 L1224.2,841.3 L1223.3,831.3 L1220.0,828.0 L1216.7,823.0 L1213.9,819.9 L1211.7,816.3 L1209.0,813.5 L1208.3,809.7 L1206.4,805.7 L1206.7,801.3 L1203.7,796.6 L1201.7,791.3 L1203.3,784.7 L1204.0,779.5 L1205.8,774.7 L1206.7,766.3 L1205.4,762.8 L1203.3,759.7 L1200.5,757.0 L1196.7,756.3 L1193.7,753.1 L1190.8,749.7 L1189.6,745.8 L1186.7,743.0 L1190.0,747.5 L1187.1,742.4 L1182.5,738.8 L1179.4,735.3 L1175.0,733.8 L1171.4,735.3 L1167.5,736.2 L1162.9,739.9 L1157.5,742.5 L1153.2,743.8 L1148.8,743.8 L1146.2,739.7 L1145.0,735.0 L1141.9,732.3 L1140.0,728.8 L1135.2,725.4 L1130.0,722.5 L1120.0,723.8 L1115.2,721.6 L1110.0,721.2 L1106.2,725.0 L1101.0,726.1 L1096.2,728.8 L1095.3,722.5 L1094.5,716.2 L1092.5,716.2 L1091.2,728.8 L1085.5,725.0 L1075.0,725.0 L1069.9,726.5 L1065.0,728.8 L1067.5,733.8 L1067.5,740.0 L1063.2,743.2 L1060.0,747.5 L1064.8,750.5 L1068.1,755.3 L1072.5,758.8 L1068.2,760.4 L1065.0,763.8 L1065.0,757.5 L1060.0,753.8 L1055.9,751.3 L1051.2,750.0 L1048.2,754.1 L1046.2,758.8 L1042.5,756.2 L1039.4,758.2 L1036.2,760.0 L1032.7,758.8 L1030.0,756.2 L1026.7,752.6 L1022.5,750.0 L1019.1,746.5 L1016.2,742.5 L1012.6,741.2 L1008.8,741.2 L1005.9,743.8 L1005.0,747.5 L998.7,746.5 L992.5,745.0 L986.2,743.4 L980.0,741.2 L973.6,741.1 L967.5,743.0 L970.0,743.0 L964.8,744.2 L960.0,746.3 L956.2,749.1 L951.7,750.5 L950.0,744.7 L945.8,743.8 L945.9,749.4 L944.2,754.7 L941.7,760.5 L938.0,764.1 L933.3,766.3 L928.7,768.0 L925.0,771.3 L920.5,772.8 L916.7,775.5 L910.0,776.3 L908.1,779.4 L905.0,781.3 L901.3,782.3 L898.3,784.7 L897.5,789.7 L891.7,793.0 L896.7,796.3 L894.7,800.3 L895.0,804.7 L893.4,808.7 L892.5,813.0 L893.3,821.3 L895.3,826.2 L896.7,831.3 L898.6,835.6 L900.8,839.7 L899.2,843.0 L893.3,843.8 L888.3,840.5 L880.0,839.7 L876.4,839.2 L873.3,837.2 L869.4,836.1 L866.7,833.0 L863.7,830.7 L860.0,830.5 L858.3,824.7 L856.6,820.3 L854.2,816.3 L852.6,813.0 L850.8,809.7 L850.0,800.5 L847.4,796.8 L843.3,794.7 L839.9,789.8 L836.7,784.7 L835.8,780.9 L833.3,778.0 L831.6,771.9 L828.3,766.3 L825.2,761.6 L823.3,756.3 L819.6,753.4 L816.7,749.7 L812.2,746.7 L808.3,743.0 L810.0,742.5 L790.0,741.2 L786.5,743.7 L782.5,745.0 L779.8,751.2 L777.5,757.5 L775.5,761.0 L772.5,763.8 L767.4,760.2 L762.5,756.2 L757.8,754.1 L754.7,749.6 L750.0,747.5 L746.0,742.7 L742.5,737.5 L740.5,731.3 L738.8,725.0 L735.8,720.5 L732.5,716.2 L728.1,711.1 L722.5,707.5 L717.4,703.9 L712.5,700.0 L709.5,695.0 L705.0,691.2 L702.5,689.5 L667.5,689.5 L667.5,701.2 L651.2,701.2 L607.5,701.2 L528.8,671.2 L530.6,667.9 L532.5,664.5 L480.0,668.8 L478.8,665.0 L477.5,661.2 L475.1,655.6 L472.5,650.0 L467.9,646.4 L465.0,641.2 L459.9,638.2 L455.0,635.0 L449.6,632.5 L445.0,628.8 L447.5,629.5 L440.8,628.4 L435.0,625.0 L430.4,620.9 L425.0,618.0 L419.8,617.8 L415.0,616.1 L410.0,615.0 L408.6,611.0 L406.2,607.5 L404.5,601.2 L402.5,595.0 L398.4,590.3 L395.0,585.0 L391.3,580.0 L387.5,575.0 L383.9,569.9 L380.0,565.0 L380.0,555.0 L377.1,551.2 L372.7,549.0 L370.0,545.0 L368.8,535.0 L370.8,531.3 L372.5,527.5 L367.5,525.0 L357.5,523.8 L355.1,519.6 L353.8,515.0 L350.0,511.6 L347.6,507.1 L343.8,503.8 L341.9,499.4 L340.0,495.0 L339.3,489.1 L339.0,483.2 L337.5,477.5 L335.4,473.1 L331.6,470.1 L328.8,466.2 L328.1,461.8 L327.0,457.5 L328.8,452.5 L330.7,447.5 L332.5,442.5 L331.2,430.0 L330.4,424.6 L328.8,419.5 L328.8,420.0 L327.0,415.0 L326.2,405.0 L323.8,398.8 L325.0,392.5 L326.1,387.5 L327.6,382.5 L328.8,377.5 L329.9,371.7 L332.3,366.1 L332.5,360.0 L333.9,355.1 L335.3,350.2 L336.4,345.2 L336.2,340.0 L336.5,334.9 L338.1,330.0 L338.8,325.0 L337.5,315.0 L337.5,308.8 L335.0,307.5 L335.0,301.2 L337.5,297.5 L335.0,292.5 L340.0,288.8 L333.8,287.5 L331.2,281.2 L329.7,274.6 L326.2,268.8 L324.5,264.0 L321.2,260.0 L319.8,256.4 L320.0,252.5 L321.2,252.0 L326.9,252.5 L332.1,254.7 L337.5,256.2 L343.1,256.1 L348.4,257.3 L353.8,258.8 L356.2,265.0 L356.0,271.5 L353.8,277.5 L355.9,282.7 L358.8,287.5 L363.0,284.7 L366.9,281.5 L370.0,277.5 L371.2,260.0 L369.2,254.3 L369.3,248.2 L367.5,242.5 L362.5,240.0 L361.2,235.5Z"/>
<path d="M1383.3,459.2 L1390.0,454.2 L1395.0,451.3 L1408.3,447.0 L1425.0,443.0 L1433.3,443.8 L1433.7,445.3 L1425.0,448.0 L1416.7,451.0 L1403.3,455.3 L1391.7,458.0 L1383.3,459.7Z"/>
<path d="M482.0,235.5 L482.0,314.2"/>
<path d="M336.2,308.8 L345.0,309.5 L353.8,310.0 L358.8,313.8 L359.8,318.2 L361.2,322.5 L366.0,323.5 L370.0,326.2 L376.7,325.7 L382.5,322.5 L395.0,323.8 L401.5,323.7 L407.5,321.2 L413.7,319.5 L420.0,318.0 L425.1,317.7 L429.9,315.5 L435.0,315.5 L450.0,314.5 L483.8,314.2"/>
<path d="M483.8,314.2 L487.4,314.9 L490.0,317.5 L493.0,323.0 L491.2,327.6 L490.0,332.5 L488.6,337.3 L485.5,341.2 L483.8,347.5 L480.4,350.9 L478.0,355.0 L478.0,359.5 L483.8,362.5 L482.6,366.2 L482.0,370.0 L482.0,419.5"/>
<path d="M328.8,419.5 L607.5,419.5"/>
<path d="M502.5,235.5 L502.5,261.2 L503.8,266.9 L507.5,271.2 L509.1,275.6 L512.5,278.8 L517.1,283.1 L522.5,286.2 L526.9,290.1 L530.0,295.0 L533.8,295.1 L537.5,296.2 L538.8,301.2 L536.9,305.4 L536.2,310.0 L536.2,317.5 L534.1,321.0 L533.8,325.0 L538.8,327.5 L541.7,323.8 L546.2,322.5 L549.6,325.7 L551.2,330.0 L552.0,335.4 L555.0,340.0 L559.5,342.2 L562.5,346.2 L565.2,352.1 L568.8,357.5 L571.6,355.2 L575.0,353.8 L585.0,352.5 L597.5,352.0 L601.2,347.5 L603.8,350.9 L607.0,353.8"/>
<path d="M607.5,340.8 L607.5,446.2"/>
<path d="M607.5,340.8 L755.5,340.8"/>
<path d="M755.5,235.5 L755.5,446.2"/>
<path d="M607.5,446.2 L797.5,446.2"/>
<path d="M650.3,446.2 L650.3,701.2"/>
<path d="M419.5,419.5 L419.5,499.0 L541.2,625.0"/>
<path d="M545.0,419.5 L545.0,575.0 L543.8,577.5 L532.5,578.0 L530.9,581.3 L531.2,585.0 L533.8,605.0 L536.5,611.0 L537.5,617.5 L538.2,621.8 L541.2,625.0 L540.0,625.0 L537.5,627.5 L535.0,630.0 L534.0,635.1 L532.5,640.0 L530.9,643.6 L530.0,647.5 L531.6,651.1 L531.2,655.0 L535.0,660.0 L532.5,664.5"/>
<path d="M545.0,552.0 L954.5,552.0"/>
<path d="M797.5,446.2 L797.5,552.0"/>
<path d="M797.5,472.0 L937.5,472.0"/>
<path d="M777.5,552.0 L777.5,684.2 L700.5,684.2 L702.5,689.5"/>
<path d="M777.5,565.0 L840.5,565.0 L840.5,617.5"/>
<path d="M755.5,315.8 L913.8,315.8"/>
<path d="M755.5,393.0 L872.5,393.0 L877.1,397.0 L882.5,400.0 L888.6,397.8 L895.0,397.5 L900.3,397.6 L905.0,400.0 L910.2,402.1 L915.0,405.0"/>
<path d="M900.0,235.5 L899.4,240.4 L901.2,245.0 L903.0,249.8 L902.1,255.1 L903.8,260.0 L904.9,265.0 L904.9,270.3 L907.5,275.0 L908.8,290.0 L909.8,296.3 L911.2,302.5 L912.7,308.7 L913.8,315.0 L911.7,320.1 L907.5,323.8 L911.4,328.0 L915.0,332.5 L915.5,380.0 L913.8,385.0 L912.5,390.0 L912.4,395.9 L915.0,401.2 L915.0,405.0 L916.2,410.7 L920.0,415.0 L922.6,421.0 L923.8,427.5 L925.0,438.0 L925.0,437.5 L926.0,442.8 L928.8,447.5 L930.2,451.8 L930.0,456.2 L932.9,462.0 L936.2,467.5 L939.6,470.4 L942.5,473.8 L946.0,475.0 L948.8,477.5 L946.4,480.8 L943.8,483.8 L946.4,487.4 L950.0,490.0 L953.8,495.0 L954.5,496.2 L954.5,564.5 L956.2,585.0 L957.5,633.0 L958.8,635.0 L958.8,642.0 L966.2,642.0 L966.2,682.5 L968.3,686.5 L971.2,690.0 L973.4,694.8 L975.6,699.6 L976.2,705.0 L976.9,710.2 L973.3,714.8 L973.8,720.0 L975.0,730.0 L973.1,735.0 L971.2,740.0 L967.5,743.0"/>
<path d="M915.5,380.0 L1026.0,380.0"/>
<path d="M930.0,456.2 L1018.8,456.2 L1020.5,460.0"/>
<path d="M1002.5,296.2 L1002.0,312.5 L997.2,315.0 L992.5,317.5 L991.0,321.2 L990.0,325.0 L993.8,330.0 L992.5,342.5 L995.5,346.6 L997.5,351.2 L1001.0,354.9 L1005.5,356.8 L1010.0,358.8 L1014.5,363.7 L1020.0,367.5 L1022.6,371.2 L1025.0,375.0 L1026.2,380.0 L1026.2,390.0 L1027.8,395.5 L1031.2,400.0 L1035.1,405.5 L1040.0,410.0 L1043.6,413.9 L1047.5,417.5 L1046.2,427.5 L1043.9,430.9 L1040.0,432.5 L1035.1,435.4 L1030.0,438.0 L1030.0,436.2 L1028.0,440.4 L1028.8,445.0 L1027.3,448.7 L1026.2,452.5 L1023.4,455.9 L1020.0,458.8 L1021.2,472.5 L1024.0,477.7 L1027.5,482.5 L1032.0,485.5 L1035.0,490.0 L1036.7,493.6 L1037.5,497.5 L1041.5,500.1 L1046.2,501.2 L1048.8,506.2 L1046.3,511.9 L1043.8,517.5 L1047.1,521.0 L1050.0,525.0 L1054.1,529.9 L1060.0,532.5 L1061.2,537.5 L1062.5,542.5 L1063.9,546.2 L1065.0,550.0 L1068.8,552.5 L1068.8,560.0 L1065.6,563.0 L1061.2,563.8 L1060.0,570.0 L1058.5,573.9 L1057.5,578.0 L1055.6,581.5 L1053.8,585.0 L1051.8,589.7 L1048.8,593.8 L1048.1,598.3 L1050.0,602.5 L1046.2,607.5 L1044.1,610.4 L1042.5,613.8 L1040.5,618.1 L1038.8,622.5 L1034.9,624.9 L1032.5,628.8 L1028.8,633.0 L1028.0,633.8 L1026.8,639.5 L1025.0,645.0 L1025.6,649.4 L1028.8,652.5 L1027.5,662.5 L1028.8,668.3 L1031.2,673.8 L1029.0,677.1 L1026.2,680.0 L1027.5,685.0 L1024.5,688.8 L1021.2,692.5 L1018.7,695.8 L1018.8,700.0 L1017.6,704.7 L1017.0,709.5 L1057.5,709.5 L1057.5,720.0 L1060.1,723.3 L1060.0,727.5 L1058.8,732.5"/>
<path d="M1040.0,406.2 L1099.0,406.2"/>
<path d="M954.5,565.0 L1047.5,565.0 L1047.9,568.8 L1050.8,571.2 L1047.1,574.5 L1043.8,578.0 L1057.5,578.0"/>
<path d="M966.2,657.0 L1026.2,657.0"/>
<path d="M1103.8,425.0 L1103.8,490.0 L1101.2,495.0 L1102.3,500.1 L1103.8,505.0 L1101.1,507.3 L1098.8,510.0 L1095.7,515.1 L1092.5,520.0 L1094.0,523.3 L1096.2,526.2"/>
<path d="M1068.8,552.5 L1071.2,546.2 L1077.2,546.2 L1082.5,548.8 L1083.5,545.1 L1083.8,541.2 L1087.6,539.5 L1091.2,537.5 L1089.4,533.9 L1090.0,530.0 L1092.4,526.9 L1096.2,526.2 L1107.5,527.5 L1113.8,530.0 L1118.8,528.6 L1122.5,525.0 L1124.8,522.3 L1127.5,520.0 L1131.1,522.7 L1133.8,526.2 L1137.3,522.8 L1140.0,518.8 L1144.6,516.6 L1147.5,512.5 L1148.8,506.2 L1152.4,504.8 L1156.2,504.5 L1158.0,505.3 L1161.3,499.3 L1167.3,496.0 L1171.3,500.0 L1176.7,504.0 L1183.3,506.0 L1188.7,507.3 L1195.3,506.7 L1200.7,505.3 L1204.7,510.0 L1208.7,514.7 L1212.7,513.3 L1215.3,508.0 L1218.0,502.7 L1219.3,498.7 L1223.3,501.3 L1226.0,498.7 L1226.7,493.3 L1230.0,489.3 L1235.3,488.0 L1240.7,485.3 L1244.7,480.0 L1247.3,477.2 L1247.3,473.3 L1247.4,469.2 L1248.7,465.3 L1249.3,460.0"/>
<path d="M1123.8,426.2 L1190.0,426.2"/>
<path d="M1160.8,426.2 L1160.8,503.8"/>
<path d="M1251.0,422.5 L1251.0,479.2 L1352.5,479.2"/>
<path d="M1208.7,514.7 L1207.3,520.0 L1208.7,525.3 L1211.1,528.4 L1212.7,532.0 L1214.0,535.4 L1216.7,538.0 L1217.3,539.3 L1214.5,543.3 L1210.0,545.3 L1207.1,548.5 L1203.3,550.7 L1200.9,554.2 L1198.0,557.3 L1193.5,558.1 L1190.0,560.9"/>
<path d="M1061.2,564.5 L1092.5,565.0 L1092.5,560.8 L1185.0,561.5 L1349.0,563.3"/>
<path d="M1217.3,539.3 L1222.0,543.3 L1227.3,547.3 L1232.7,545.3 L1238.0,544.0 L1243.3,542.7 L1250.0,540.7 L1255.3,538.0 L1258.7,532.7 L1262.0,526.7 L1263.6,522.7 L1265.3,518.7 L1266.6,514.6 L1268.0,510.7 L1272.0,514.7 L1276.0,512.7 L1278.7,509.4 L1280.0,505.3 L1283.3,504.0 L1287.3,500.0 L1292.7,496.0 L1296.7,491.3 L1294.7,486.0 L1298.3,485.8 L1301.7,490.0 L1303.5,493.5 L1306.7,495.8 L1309.2,490.0 L1308.3,482.5"/>
<path d="M1272.0,479.7 L1272.0,493.3 L1277.6,489.5 L1283.3,485.8 L1286.6,483.0 L1290.8,481.7 L1295.8,485.0 L1301.7,483.3 L1308.3,482.5 L1308.6,487.6 L1311.7,491.7 L1313.3,495.0 L1316.7,496.7 L1321.7,499.2 L1326.7,501.7 L1323.3,507.5 L1318.3,511.7 L1319.2,516.7 L1324.2,514.2 L1327.6,516.9 L1331.7,518.3 L1334.4,521.6 L1338.3,523.3 L1341.7,527.5"/>
<path d="M1352.5,479.2 L1352.5,513.7 L1364.2,513.7"/>
<path d="M1354.2,478.3 L1356.7,475.8 L1361.8,474.0 L1366.7,471.7 L1370.0,470.1 L1373.3,468.3 L1371.1,465.5 L1369.2,462.5 L1365.0,458.3 L1363.3,452.5 L1366.7,447.5 L1369.9,442.9 L1371.7,437.5 L1369.0,433.5 L1366.7,429.2 L1365.0,425.0 L1362.0,422.7 L1360.8,419.2 L1266.7,419.2 L1266.7,413.7"/>
<path d="M1371.7,437.5 L1377.2,438.4 L1381.8,441.4 L1386.1,445.1 L1391.7,445.8"/>
<path d="M1400.8,340.5 L1400.8,348.3 L1401.7,356.7 L1401.3,361.1 L1399.2,365.0 L1400.1,369.1 L1400.8,373.3 L1399.2,378.3 L1402.5,380.8 L1403.0,388.7 L1402.5,389.2 L1403.2,394.7 L1405.0,400.0 L1404.5,406.3 L1401.2,412.0 L1400.8,418.3 L1400.5,423.9 L1399.8,429.4 L1397.9,434.6 L1396.7,440.0 L1395.0,444.7"/>
<path d="M1405.0,400.0 L1444.2,400.0 L1448.7,396.9 L1454.2,396.7"/>
<path d="M1400.8,418.3 L1435.0,418.3 L1443.3,419.2 L1443.4,423.1 L1445.0,426.7 L1450.0,430.8"/>
<path d="M1435.0,418.3 L1435.0,439.2"/>
<path d="M1440.0,340.5 L1438.9,344.4 L1438.3,348.3 L1439.2,353.3 L1435.0,357.5 L1430.0,359.2 L1428.6,362.8 L1428.3,366.7 L1425.9,370.9 L1423.3,375.0 L1422.1,378.3 L1420.8,381.7 L1420.0,388.7 L1420.4,383.4 L1421.7,378.3 L1419.4,383.1 L1419.2,388.3 L1419.0,394.3 L1417.5,400.0"/>
<path d="M1449.2,332.5 L1450.8,356.7 L1452.5,381.7 L1452.1,385.4 L1454.2,388.7 L1454.2,380.0 L1454.4,384.5 L1456.7,388.3 L1455.8,395.0"/>
<path d="M1225.0,562.0 L1225.0,567.5 L1220.9,570.5 L1216.7,573.4 L1212.5,576.2 L1207.6,578.1 L1203.8,581.5 L1200.0,585.0 L1194.6,586.2 L1190.5,590.3 L1185.0,591.2 L1180.1,594.6 L1175.0,597.5 L1172.5,603.8"/>
<path d="M1050.0,603.8 L1192.5,603.8"/>
<path d="M1192.5,607.5 L1197.9,604.0 L1204.3,602.8 L1210.0,600.0 L1240.0,602.0 L1242.4,606.0 L1246.0,609.0 L1267.5,610.0 L1271.8,610.7 L1275.0,613.8 L1278.9,617.0 L1283.0,620.0 L1285.8,624.8 L1290.7,627.7 L1294.0,632.0"/>
<path d="M1192.5,606.2 L1192.8,610.7 L1193.8,615.0 L1198.8,618.0 L1202.5,622.5 L1205.2,628.5 L1210.0,633.0 L1207.5,630.0 L1211.0,633.2 L1214.3,636.6 L1217.5,640.0 L1220.1,644.4 L1222.8,648.7 L1226.2,652.5 L1229.3,658.0 L1233.8,662.5 L1234.6,668.5 L1237.5,673.8 L1239.9,677.2 L1241.2,681.2"/>
<path d="M1091.2,604.5 L1088.8,633.0 L1087.5,645.0 L1084.5,687.5 L1085.5,725.0"/>
<path d="M1145.0,604.5 L1147.0,610.0 L1147.2,615.8 L1148.3,621.5 L1149.3,627.1 L1148.8,633.0 L1148.5,636.7 L1150.0,640.0 L1150.7,645.0 L1152.2,649.9 L1154.1,654.8 L1153.8,660.0 L1154.5,665.7 L1158.0,670.6 L1158.8,676.2 L1157.8,679.9 L1155.0,682.5 L1156.2,695.0 L1155.0,705.0 L1156.6,710.6 L1157.5,716.2"/>
<path d="M1155.0,709.2 L1101.2,709.2 L1102.5,715.0 L1106.2,720.0 L1106.2,725.0"/>
<path d="M1157.5,716.2 L1216.2,722.0 L1216.2,727.5 L1218.8,726.2 L1218.8,715.0 L1225.0,714.5 L1231.2,716.2"/>
<path d="M1046.7,300.8 L1050.0,305.0 L1054.5,308.0 L1060.0,308.3 L1065.9,310.1 L1071.7,312.5 L1077.7,312.7 L1083.3,315.0 L1087.0,318.0 L1091.7,318.3 L1093.0,322.1 L1095.8,325.0 L1096.7,331.7 L1100.0,335.0 L1104.2,333.3"/>
<path d="M840.5,617.5 L844.9,620.2 L850.0,620.0 L855.0,618.8 L858.5,621.1 L860.0,625.0 L872.5,626.2 L879.0,628.1 L885.0,631.2 L900.0,633.0 L895.0,633.8 L905.0,632.5 L910.8,636.2 L917.5,638.0 L924.2,636.3 L930.0,632.5 L942.5,631.2 L947.4,634.5 L952.5,637.5 L955.5,639.6 L958.8,641.2"/>
<path d="M1251.0,479.2 L1272.0,479.2"/>
</g>
<g fill="none" stroke="#000" stroke-linejoin="round" stroke-linecap="round">
<path d="M361.2,240.0 L367.5,242.5 L370.0,252.5 L372.5,261.2 L370.0,268.8 L371.2,277.5 L366.2,283.8 L360.0,287.5 L355.0,283.8 L353.8,276.2 L357.5,271.2 L362.5,268.8 L365.5,261.2 L363.8,252.5 L358.8,248.8 L355.5,244.5" stroke-width="6"/>
<path d="M369.5,522.5 L371.2,530.0 L373.8,536.2" stroke-width="7"/>
<path d="M1333.3,493.3 L1336.7,503.3 L1335.0,513.3 L1338.3,523.3" stroke-width="4.2"/>
<path d="M1343.3,488.3 L1341.7,500.0 L1345.0,513.3 L1350.0,521.7" stroke-width="3.6"/>
<path d="M1326.7,526.7 L1336.7,533.3" stroke-width="3.6"/>
<path d="M1328.3,540.0 L1338.3,545.0" stroke-width="3.6"/>
<path d="M1326.7,545.8 L1336.7,553.3" stroke-width="3.6"/>
<path d="M1331.7,570.0 L1333.3,578.3 L1343.3,576.7 L1346.7,583.3" stroke-width="3.6"/>
<path d="M1326.7,591.7 L1336.7,593.3 L1341.7,595.0" stroke-width="4.2"/>
<path d="M1323.3,601.7 L1333.3,603.3 L1336.7,606.7" stroke-width="4.2"/>
<path d="M1460.0,428.0 L1463.1,422.7 L1466.0,418.5 L1471.3,418.0 L1474.8,422.0 L1474.8,428.9" stroke-width="5"/>
<path d="M1386.7,456.7 L1400.0,453.3 L1416.7,448.3 L1431.7,444.7" stroke-width="3.2"/>
<path d="M1456.0,436.7 L1462.0,436.9" stroke-width="5.5"/>
<path d="M1469.3,437.3 L1472.9,438.0" stroke-width="5.5"/>
<path d="M1204.2,790.5 L1209.2,793.0 L1206.7,796.3" stroke-width="7"/>
<path d="M1215.0,817.2 L1217.5,819.7" stroke-width="5"/>
<path d="M1238.3,860.5 L1240.8,862.2" stroke-width="6"/>
<path d="M910.0,770.5 L918.3,769.7 L915.0,774.7" stroke-width="4"/>
<path d="M887.5,803.8 L890.0,808.0 L893.3,806.3" stroke-width="4"/>
<path d="M1145.0,337.5 L1146.7,342.5 L1145.0,346.7" stroke-width="7.5"/>
<path d="M1114.2,319.2 L1122.5,320.3" stroke-width="6"/>
<path d="M1093.3,351.7 L1101.7,343.3 L1108.3,336.7 L1114.2,332.5" stroke-width="4.5"/>
<path d="M1058.8,732.5 L1052.5,726.2 L1045.0,727.5 L1042.5,732.5 L1047.5,735.0 L1055.0,733.8 L1058.8,736.2" stroke-width="2.6"/>
<path d="M1056.2,734.5 L1058.8,736.2" stroke-width="5"/>
</g>
</svg>
<div class="title">Spotted lanternfly: Adult relative pop. size for each gen. w/<br>climate stress exclusion 12/14/2025</div>
<div class="sub">Maps and modeling 12/14/2025 by Oregon State University IPPC USPEST.ORG and<br>USDA-APHIS-PPQ; climate data from OSU PRISM Climate Group</div>
<div class="lt">Adult relative<br>pop. size<br>(peak)</div>
<div class="sw" style="top:534.3px;background:#4d4d4d"></div>
<div class="sw" style="top:559.8px;background:#b3b3b3"></div>
<div class="sw" style="top:585.3px;background:#e5e5e5"></div>
<div class="sw" style="top:610.8px;background:#0028d8"></div>
<div class="sw" style="top:636.3px;background:#a82814"></div>
<div class="ll" style="top:535px">excl.-severe</div>
<div class="ll" style="top:560.5px">excl.-moderate</div>
<div class="ll" style="top:586px">other stages</div>
<div class="ll" style="top:611.5px">0 gens.</div>
<div class="ll" style="top:637px">1 gens.</div>
</body></html>
